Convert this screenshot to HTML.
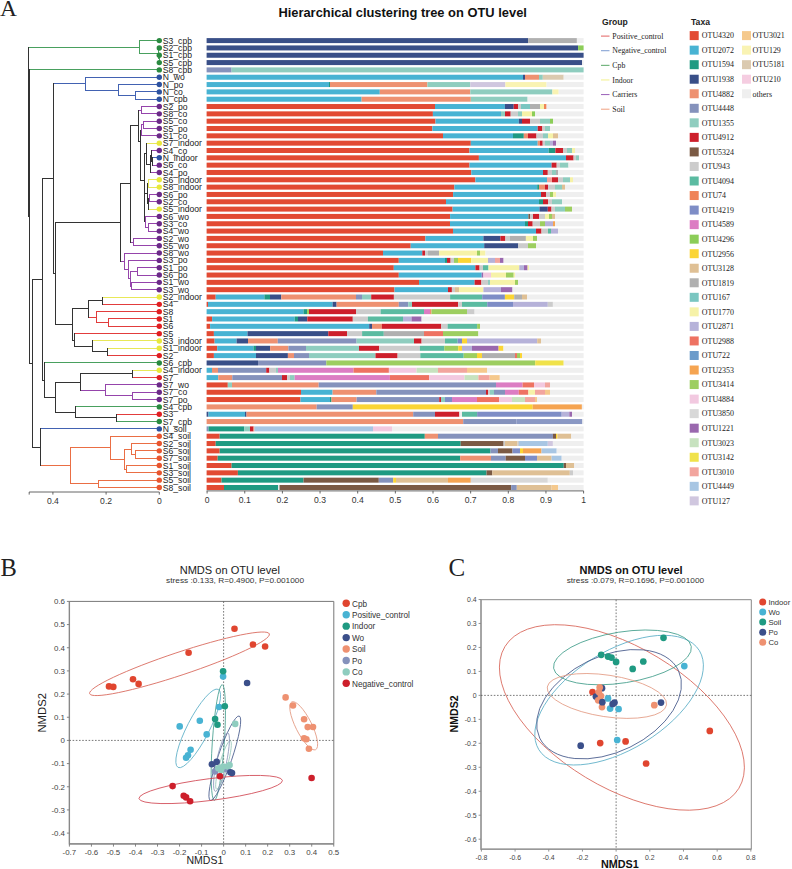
<!DOCTYPE html>
<html><head><meta charset="utf-8"><style>
html,body{margin:0;padding:0;background:#fff;}
svg{display:block;}
</style></head><body>
<svg width="792" height="869" viewBox="0 0 792 869">
<rect width="792" height="869" fill="#fff"/>
<text x="402.65" y="17" font-family="Liberation Sans" font-weight="bold" font-size="12.8" text-anchor="middle" fill="#111" textLength="248.5" lengthAdjust="spacingAndGlyphs">Hierarchical clustering tree on OTU level</text>
<text x="0" y="16.4" font-family="Liberation Serif" font-size="23.4" fill="#222">A</text>
<rect x="206.60" y="38.10" width="321.50" height="5.0" fill="#394f88"/>
<rect x="528.10" y="38.10" width="48.80" height="5.0" fill="#b0b0b0"/>
<rect x="576.90" y="38.10" width="6.70" height="5.0" fill="#efefef"/>
<rect x="206.60" y="45.43" width="371.50" height="5.0" fill="#394f88"/>
<rect x="578.10" y="45.43" width="5.50" height="5.0" fill="#8ccd58"/>
<rect x="206.60" y="52.75" width="377.00" height="5.0" fill="#394f88"/>
<rect x="206.60" y="60.08" width="375.40" height="5.0" fill="#394f88"/>
<rect x="582.00" y="60.08" width="1.60" height="5.0" fill="#efefef"/>
<rect x="206.60" y="67.40" width="25.00" height="5.0" fill="#8592bc"/>
<rect x="231.60" y="67.40" width="352.00" height="5.0" fill="#8fcdbf"/>
<rect x="206.60" y="74.73" width="316.40" height="5.0" fill="#48b3d3"/>
<rect x="523.00" y="74.73" width="2.00" height="5.0" fill="#394f88"/>
<rect x="525.00" y="74.73" width="14.00" height="5.0" fill="#ee9171"/>
<rect x="539.00" y="74.73" width="3.80" height="5.0" fill="#8fcdbf"/>
<rect x="542.80" y="74.73" width="20.90" height="5.0" fill="#dbcab0"/>
<rect x="563.70" y="74.73" width="19.90" height="5.0" fill="#efefef"/>
<rect x="206.60" y="82.06" width="122.40" height="5.0" fill="#48b3d3"/>
<rect x="329.00" y="82.06" width="1.00" height="5.0" fill="#1f9a82"/>
<rect x="330.00" y="82.06" width="97.40" height="5.0" fill="#ee9171"/>
<rect x="427.40" y="82.06" width="42.90" height="5.0" fill="#8fcdbf"/>
<rect x="470.30" y="82.06" width="35.10" height="5.0" fill="#d0c7df"/>
<rect x="505.40" y="82.06" width="41.20" height="5.0" fill="#f9f3b3"/>
<rect x="546.60" y="82.06" width="37.00" height="5.0" fill="#efefef"/>
<rect x="206.60" y="89.38" width="173.20" height="5.0" fill="#48b3d3"/>
<rect x="379.80" y="89.38" width="90.50" height="5.0" fill="#ee9171"/>
<rect x="470.30" y="89.38" width="82.10" height="5.0" fill="#8fcdbf"/>
<rect x="552.40" y="89.38" width="6.30" height="5.0" fill="#f9f3b3"/>
<rect x="558.70" y="89.38" width="24.90" height="5.0" fill="#efefef"/>
<rect x="206.60" y="96.71" width="155.00" height="5.0" fill="#48b3d3"/>
<rect x="361.60" y="96.71" width="109.20" height="5.0" fill="#ee9171"/>
<rect x="470.80" y="96.71" width="56.80" height="5.0" fill="#8fcdbf"/>
<rect x="527.60" y="96.71" width="56.00" height="5.0" fill="#efefef"/>
<rect x="206.60" y="104.03" width="228.40" height="5.0" fill="#e24a33"/>
<rect x="435.00" y="104.03" width="69.90" height="5.0" fill="#48b3d3"/>
<rect x="504.90" y="104.03" width="8.80" height="5.0" fill="#394f88"/>
<rect x="513.70" y="104.03" width="4.30" height="5.0" fill="#cd1f2b"/>
<rect x="518.00" y="104.03" width="3.00" height="5.0" fill="#cccccc"/>
<rect x="521.00" y="104.03" width="9.00" height="5.0" fill="#7ac6c1"/>
<rect x="530.00" y="104.03" width="10.00" height="5.0" fill="#b0b0b0"/>
<rect x="540.00" y="104.03" width="4.00" height="5.0" fill="#f6f2a8"/>
<rect x="544.00" y="104.03" width="2.60" height="5.0" fill="#ef8459"/>
<rect x="546.60" y="104.03" width="37.00" height="5.0" fill="#efefef"/>
<rect x="206.60" y="111.36" width="226.30" height="5.0" fill="#e24a33"/>
<rect x="432.90" y="111.36" width="68.10" height="5.0" fill="#48b3d3"/>
<rect x="501.00" y="111.36" width="4.00" height="5.0" fill="#8fcdbf"/>
<rect x="505.00" y="111.36" width="5.70" height="5.0" fill="#cd1f2b"/>
<rect x="510.70" y="111.36" width="7.30" height="5.0" fill="#cccccc"/>
<rect x="518.00" y="111.36" width="4.00" height="5.0" fill="#8fcdbf"/>
<rect x="522.00" y="111.36" width="10.00" height="5.0" fill="#f6f2a8"/>
<rect x="532.00" y="111.36" width="3.00" height="5.0" fill="#8ccd58"/>
<rect x="535.00" y="111.36" width="48.60" height="5.0" fill="#efefef"/>
<rect x="206.60" y="118.69" width="228.90" height="5.0" fill="#e24a33"/>
<rect x="435.50" y="118.69" width="83.30" height="5.0" fill="#48b3d3"/>
<rect x="518.80" y="118.69" width="3.20" height="5.0" fill="#394f88"/>
<rect x="522.00" y="118.69" width="8.00" height="5.0" fill="#cd1f2b"/>
<rect x="530.00" y="118.69" width="10.00" height="5.0" fill="#cccccc"/>
<rect x="540.00" y="118.69" width="10.00" height="5.0" fill="#8fcdbf"/>
<rect x="550.00" y="118.69" width="3.00" height="5.0" fill="#8ccd58"/>
<rect x="553.00" y="118.69" width="30.60" height="5.0" fill="#efefef"/>
<rect x="206.60" y="126.01" width="225.80" height="5.0" fill="#e24a33"/>
<rect x="432.40" y="126.01" width="105.30" height="5.0" fill="#48b3d3"/>
<rect x="537.70" y="126.01" width="4.70" height="5.0" fill="#cd1f2b"/>
<rect x="542.40" y="126.01" width="2.60" height="5.0" fill="#cccccc"/>
<rect x="545.00" y="126.01" width="5.00" height="5.0" fill="#8fcdbf"/>
<rect x="550.00" y="126.01" width="33.60" height="5.0" fill="#efefef"/>
<rect x="206.60" y="133.34" width="236.40" height="5.0" fill="#e24a33"/>
<rect x="443.00" y="133.34" width="70.00" height="5.0" fill="#48b3d3"/>
<rect x="513.00" y="133.34" width="10.80" height="5.0" fill="#1f9a82"/>
<rect x="523.80" y="133.34" width="4.20" height="5.0" fill="#ee9171"/>
<rect x="528.00" y="133.34" width="8.50" height="5.0" fill="#cd1f2b"/>
<rect x="536.50" y="133.34" width="6.50" height="5.0" fill="#cccccc"/>
<rect x="543.00" y="133.34" width="5.00" height="5.0" fill="#8fcdbf"/>
<rect x="548.00" y="133.34" width="5.00" height="5.0" fill="#f6f2a8"/>
<rect x="553.00" y="133.34" width="5.00" height="5.0" fill="#dfc095"/>
<rect x="558.00" y="133.34" width="25.60" height="5.0" fill="#efefef"/>
<rect x="206.60" y="140.66" width="264.20" height="5.0" fill="#e24a33"/>
<rect x="470.80" y="140.66" width="66.90" height="5.0" fill="#48b3d3"/>
<rect x="537.70" y="140.66" width="2.30" height="5.0" fill="#ee9171"/>
<rect x="540.00" y="140.66" width="2.70" height="5.0" fill="#cd1f2b"/>
<rect x="542.70" y="140.66" width="2.30" height="5.0" fill="#cccccc"/>
<rect x="545.00" y="140.66" width="5.00" height="5.0" fill="#8fcdbf"/>
<rect x="550.00" y="140.66" width="3.00" height="5.0" fill="#b6b2d9"/>
<rect x="553.00" y="140.66" width="3.00" height="5.0" fill="#9a68ae"/>
<rect x="556.00" y="140.66" width="27.60" height="5.0" fill="#efefef"/>
<rect x="206.60" y="147.99" width="262.90" height="5.0" fill="#e24a33"/>
<rect x="469.50" y="147.99" width="79.10" height="5.0" fill="#48b3d3"/>
<rect x="548.60" y="147.99" width="6.80" height="5.0" fill="#1f9a82"/>
<rect x="555.40" y="147.99" width="7.60" height="5.0" fill="#cd1f2b"/>
<rect x="563.00" y="147.99" width="4.00" height="5.0" fill="#cccccc"/>
<rect x="567.00" y="147.99" width="5.00" height="5.0" fill="#8fcdbf"/>
<rect x="572.00" y="147.99" width="3.00" height="5.0" fill="#f6f2a8"/>
<rect x="575.00" y="147.99" width="8.60" height="5.0" fill="#efefef"/>
<rect x="206.60" y="155.32" width="272.30" height="5.0" fill="#e24a33"/>
<rect x="478.90" y="155.32" width="87.10" height="5.0" fill="#48b3d3"/>
<rect x="566.00" y="155.32" width="7.60" height="5.0" fill="#cd1f2b"/>
<rect x="573.60" y="155.32" width="2.40" height="5.0" fill="#cccccc"/>
<rect x="576.00" y="155.32" width="3.00" height="5.0" fill="#8fcdbf"/>
<rect x="579.00" y="155.32" width="4.60" height="5.0" fill="#efefef"/>
<rect x="206.60" y="162.64" width="262.90" height="5.0" fill="#e24a33"/>
<rect x="469.50" y="162.64" width="82.10" height="5.0" fill="#48b3d3"/>
<rect x="551.60" y="162.64" width="5.10" height="5.0" fill="#cd1f2b"/>
<rect x="556.70" y="162.64" width="3.30" height="5.0" fill="#cccccc"/>
<rect x="560.00" y="162.64" width="8.50" height="5.0" fill="#8fcdbf"/>
<rect x="568.50" y="162.64" width="15.10" height="5.0" fill="#efefef"/>
<rect x="206.60" y="169.97" width="264.70" height="5.0" fill="#e24a33"/>
<rect x="471.30" y="169.97" width="71.70" height="5.0" fill="#48b3d3"/>
<rect x="543.00" y="169.97" width="4.80" height="5.0" fill="#cd1f2b"/>
<rect x="547.80" y="169.97" width="4.20" height="5.0" fill="#cccccc"/>
<rect x="552.00" y="169.97" width="4.00" height="5.0" fill="#8fcdbf"/>
<rect x="556.00" y="169.97" width="2.00" height="5.0" fill="#b0b0b0"/>
<rect x="558.00" y="169.97" width="25.60" height="5.0" fill="#efefef"/>
<rect x="206.60" y="177.29" width="268.80" height="5.0" fill="#e24a33"/>
<rect x="475.40" y="177.29" width="71.60" height="5.0" fill="#48b3d3"/>
<rect x="547.00" y="177.29" width="5.00" height="5.0" fill="#f2a59e"/>
<rect x="552.00" y="177.29" width="6.00" height="5.0" fill="#cd1f2b"/>
<rect x="558.00" y="177.29" width="5.00" height="5.0" fill="#cccccc"/>
<rect x="563.00" y="177.29" width="7.00" height="5.0" fill="#8fcdbf"/>
<rect x="570.00" y="177.29" width="3.00" height="5.0" fill="#f6f2a8"/>
<rect x="573.00" y="177.29" width="10.60" height="5.0" fill="#efefef"/>
<rect x="206.60" y="184.62" width="247.80" height="5.0" fill="#e24a33"/>
<rect x="454.40" y="184.62" width="82.80" height="5.0" fill="#48b3d3"/>
<rect x="537.20" y="184.62" width="1.80" height="5.0" fill="#1f9a82"/>
<rect x="539.00" y="184.62" width="6.00" height="5.0" fill="#ee9171"/>
<rect x="545.00" y="184.62" width="3.00" height="5.0" fill="#cd1f2b"/>
<rect x="548.00" y="184.62" width="7.00" height="5.0" fill="#cccccc"/>
<rect x="555.00" y="184.62" width="7.00" height="5.0" fill="#8fcdbf"/>
<rect x="562.00" y="184.62" width="3.00" height="5.0" fill="#dfc095"/>
<rect x="565.00" y="184.62" width="18.60" height="5.0" fill="#efefef"/>
<rect x="206.60" y="191.95" width="246.50" height="5.0" fill="#e24a33"/>
<rect x="453.10" y="191.95" width="87.90" height="5.0" fill="#48b3d3"/>
<rect x="541.00" y="191.95" width="5.00" height="5.0" fill="#cd1f2b"/>
<rect x="546.00" y="191.95" width="4.00" height="5.0" fill="#cccccc"/>
<rect x="550.00" y="191.95" width="3.00" height="5.0" fill="#9dce60"/>
<rect x="553.00" y="191.95" width="3.00" height="5.0" fill="#f6f2a8"/>
<rect x="556.00" y="191.95" width="27.60" height="5.0" fill="#efefef"/>
<rect x="206.60" y="199.27" width="239.40" height="5.0" fill="#e24a33"/>
<rect x="446.00" y="199.27" width="93.00" height="5.0" fill="#48b3d3"/>
<rect x="539.00" y="199.27" width="4.00" height="5.0" fill="#1f9a82"/>
<rect x="543.00" y="199.27" width="5.00" height="5.0" fill="#cd1f2b"/>
<rect x="548.00" y="199.27" width="4.00" height="5.0" fill="#cccccc"/>
<rect x="552.00" y="199.27" width="10.00" height="5.0" fill="#8fcdbf"/>
<rect x="562.00" y="199.27" width="21.60" height="5.0" fill="#efefef"/>
<rect x="206.60" y="206.60" width="246.00" height="5.0" fill="#e24a33"/>
<rect x="452.60" y="206.60" width="86.90" height="5.0" fill="#48b3d3"/>
<rect x="539.50" y="206.60" width="8.30" height="5.0" fill="#394f88"/>
<rect x="547.80" y="206.60" width="3.70" height="5.0" fill="#cd1f2b"/>
<rect x="551.50" y="206.60" width="3.50" height="5.0" fill="#cccccc"/>
<rect x="555.00" y="206.60" width="10.00" height="5.0" fill="#8fcdbf"/>
<rect x="565.00" y="206.60" width="7.00" height="5.0" fill="#9dce60"/>
<rect x="572.00" y="206.60" width="11.60" height="5.0" fill="#efefef"/>
<rect x="206.60" y="213.92" width="243.50" height="5.0" fill="#e24a33"/>
<rect x="450.10" y="213.92" width="78.30" height="5.0" fill="#48b3d3"/>
<rect x="528.40" y="213.92" width="1.60" height="5.0" fill="#7b5a44"/>
<rect x="530.00" y="213.92" width="3.00" height="5.0" fill="#cccccc"/>
<rect x="533.00" y="213.92" width="6.00" height="5.0" fill="#cd1f2b"/>
<rect x="539.00" y="213.92" width="6.00" height="5.0" fill="#cccccc"/>
<rect x="545.00" y="213.92" width="4.00" height="5.0" fill="#f6f2a8"/>
<rect x="549.00" y="213.92" width="3.00" height="5.0" fill="#9dce60"/>
<rect x="552.00" y="213.92" width="3.00" height="5.0" fill="#dfc095"/>
<rect x="555.00" y="213.92" width="28.60" height="5.0" fill="#efefef"/>
<rect x="206.60" y="221.25" width="243.40" height="5.0" fill="#e24a33"/>
<rect x="450.00" y="221.25" width="75.00" height="5.0" fill="#48b3d3"/>
<rect x="525.00" y="221.25" width="3.00" height="5.0" fill="#1f9a82"/>
<rect x="528.00" y="221.25" width="4.70" height="5.0" fill="#cd1f2b"/>
<rect x="532.70" y="221.25" width="7.30" height="5.0" fill="#cccccc"/>
<rect x="540.00" y="221.25" width="5.00" height="5.0" fill="#9dce60"/>
<rect x="545.00" y="221.25" width="8.00" height="5.0" fill="#b6b2d9"/>
<rect x="553.00" y="221.25" width="2.00" height="5.0" fill="#f5a451"/>
<rect x="555.00" y="221.25" width="28.60" height="5.0" fill="#efefef"/>
<rect x="206.60" y="228.58" width="246.40" height="5.0" fill="#e24a33"/>
<rect x="453.00" y="228.58" width="83.00" height="5.0" fill="#48b3d3"/>
<rect x="536.00" y="228.58" width="5.50" height="5.0" fill="#cd1f2b"/>
<rect x="541.50" y="228.58" width="6.50" height="5.0" fill="#cccccc"/>
<rect x="548.00" y="228.58" width="3.00" height="5.0" fill="#5bbba1"/>
<rect x="551.00" y="228.58" width="7.00" height="5.0" fill="#b6b2d9"/>
<rect x="558.00" y="228.58" width="25.60" height="5.0" fill="#efefef"/>
<rect x="206.60" y="235.90" width="218.80" height="5.0" fill="#e24a33"/>
<rect x="425.40" y="235.90" width="58.00" height="5.0" fill="#48b3d3"/>
<rect x="483.40" y="235.90" width="17.00" height="5.0" fill="#394f88"/>
<rect x="500.40" y="235.90" width="5.00" height="5.0" fill="#cd1f2b"/>
<rect x="505.40" y="235.90" width="4.60" height="5.0" fill="#cccccc"/>
<rect x="510.00" y="235.90" width="15.90" height="5.0" fill="#b0b0b0"/>
<rect x="525.90" y="235.90" width="7.10" height="5.0" fill="#f6f2a8"/>
<rect x="533.00" y="235.90" width="4.00" height="5.0" fill="#9dce60"/>
<rect x="537.00" y="235.90" width="46.60" height="5.0" fill="#efefef"/>
<rect x="206.60" y="243.23" width="204.10" height="5.0" fill="#e24a33"/>
<rect x="410.70" y="243.23" width="73.50" height="5.0" fill="#48b3d3"/>
<rect x="484.20" y="243.23" width="34.10" height="5.0" fill="#394f88"/>
<rect x="518.30" y="243.23" width="9.70" height="5.0" fill="#cccccc"/>
<rect x="528.00" y="243.23" width="8.00" height="5.0" fill="#9dce60"/>
<rect x="536.00" y="243.23" width="47.60" height="5.0" fill="#efefef"/>
<rect x="206.60" y="250.55" width="176.40" height="5.0" fill="#e24a33"/>
<rect x="383.00" y="250.55" width="39.30" height="5.0" fill="#48b3d3"/>
<rect x="422.30" y="250.55" width="2.70" height="5.0" fill="#cd1f2b"/>
<rect x="425.00" y="250.55" width="3.00" height="5.0" fill="#cccccc"/>
<rect x="428.00" y="250.55" width="11.00" height="5.0" fill="#b0b0b0"/>
<rect x="439.00" y="250.55" width="38.00" height="5.0" fill="#f6f2a8"/>
<rect x="477.00" y="250.55" width="3.00" height="5.0" fill="#9dce60"/>
<rect x="480.00" y="250.55" width="5.50" height="5.0" fill="#f6f2a8"/>
<rect x="485.50" y="250.55" width="98.10" height="5.0" fill="#efefef"/>
<rect x="206.60" y="257.88" width="192.20" height="5.0" fill="#e24a33"/>
<rect x="398.80" y="257.88" width="46.20" height="5.0" fill="#48b3d3"/>
<rect x="445.00" y="257.88" width="2.00" height="5.0" fill="#1f9a82"/>
<rect x="447.00" y="257.88" width="3.60" height="5.0" fill="#cd1f2b"/>
<rect x="450.60" y="257.88" width="3.40" height="5.0" fill="#cccccc"/>
<rect x="454.00" y="257.88" width="4.00" height="5.0" fill="#9dce60"/>
<rect x="458.00" y="257.88" width="13.30" height="5.0" fill="#fbd535"/>
<rect x="471.30" y="257.88" width="16.70" height="5.0" fill="#f6f2a8"/>
<rect x="488.00" y="257.88" width="7.00" height="5.0" fill="#b6b2d9"/>
<rect x="495.00" y="257.88" width="5.00" height="5.0" fill="#f2a59e"/>
<rect x="500.00" y="257.88" width="3.60" height="5.0" fill="#9a68ae"/>
<rect x="503.60" y="257.88" width="80.00" height="5.0" fill="#efefef"/>
<rect x="206.60" y="265.21" width="187.20" height="5.0" fill="#e24a33"/>
<rect x="393.80" y="265.21" width="81.60" height="5.0" fill="#48b3d3"/>
<rect x="475.40" y="265.21" width="4.20" height="5.0" fill="#cd1f2b"/>
<rect x="479.60" y="265.21" width="3.40" height="5.0" fill="#cccccc"/>
<rect x="483.00" y="265.21" width="5.50" height="5.0" fill="#5bbba1"/>
<rect x="488.50" y="265.21" width="30.80" height="5.0" fill="#f6f2a8"/>
<rect x="519.30" y="265.21" width="4.70" height="5.0" fill="#b6b2d9"/>
<rect x="524.00" y="265.21" width="3.60" height="5.0" fill="#9a68ae"/>
<rect x="527.60" y="265.21" width="1.40" height="5.0" fill="#f6f2a8"/>
<rect x="529.00" y="265.21" width="54.60" height="5.0" fill="#efefef"/>
<rect x="206.60" y="272.53" width="192.20" height="5.0" fill="#e24a33"/>
<rect x="398.80" y="272.53" width="82.90" height="5.0" fill="#48b3d3"/>
<rect x="481.70" y="272.53" width="1.70" height="5.0" fill="#9a68ae"/>
<rect x="483.40" y="272.53" width="7.60" height="5.0" fill="#f2c9e0"/>
<rect x="491.00" y="272.53" width="15.00" height="5.0" fill="#f6f2a8"/>
<rect x="506.00" y="272.53" width="7.70" height="5.0" fill="#9dce60"/>
<rect x="513.70" y="272.53" width="1.30" height="5.0" fill="#f6f2a8"/>
<rect x="515.00" y="272.53" width="68.60" height="5.0" fill="#efefef"/>
<rect x="206.60" y="279.86" width="212.40" height="5.0" fill="#e24a33"/>
<rect x="419.00" y="279.86" width="55.60" height="5.0" fill="#48b3d3"/>
<rect x="474.60" y="279.86" width="6.80" height="5.0" fill="#cd1f2b"/>
<rect x="481.40" y="279.86" width="6.60" height="5.0" fill="#cccccc"/>
<rect x="488.00" y="279.86" width="2.00" height="5.0" fill="#8fcdbf"/>
<rect x="490.00" y="279.86" width="25.00" height="5.0" fill="#f6f2a8"/>
<rect x="515.00" y="279.86" width="3.00" height="5.0" fill="#9dce60"/>
<rect x="518.00" y="279.86" width="65.60" height="5.0" fill="#efefef"/>
<rect x="206.60" y="287.18" width="187.90" height="5.0" fill="#e24a33"/>
<rect x="394.50" y="287.18" width="53.50" height="5.0" fill="#48b3d3"/>
<rect x="448.00" y="287.18" width="3.90" height="5.0" fill="#cd1f2b"/>
<rect x="451.90" y="287.18" width="3.10" height="5.0" fill="#cccccc"/>
<rect x="455.00" y="287.18" width="4.00" height="5.0" fill="#dfc095"/>
<rect x="459.00" y="287.18" width="24.40" height="5.0" fill="#f6f2a8"/>
<rect x="483.40" y="287.18" width="17.60" height="5.0" fill="#b6b2d9"/>
<rect x="501.00" y="287.18" width="11.50" height="5.0" fill="#9a68ae"/>
<rect x="512.50" y="287.18" width="71.10" height="5.0" fill="#efefef"/>
<rect x="206.60" y="294.51" width="9.10" height="5.0" fill="#e24a33"/>
<rect x="215.70" y="294.51" width="48.70" height="5.0" fill="#48b3d3"/>
<rect x="264.40" y="294.51" width="5.60" height="5.0" fill="#1f9a82"/>
<rect x="270.00" y="294.51" width="11.30" height="5.0" fill="#394f88"/>
<rect x="281.30" y="294.51" width="74.70" height="5.0" fill="#ee9171"/>
<rect x="356.00" y="294.51" width="6.00" height="5.0" fill="#8592bc"/>
<rect x="362.00" y="294.51" width="9.20" height="5.0" fill="#8fcdbf"/>
<rect x="371.20" y="294.51" width="22.70" height="5.0" fill="#cd1f2b"/>
<rect x="393.90" y="294.51" width="56.20" height="5.0" fill="#cccccc"/>
<rect x="450.10" y="294.51" width="32.10" height="5.0" fill="#5bbba1"/>
<rect x="482.20" y="294.51" width="22.70" height="5.0" fill="#7e8dc6"/>
<rect x="504.90" y="294.51" width="9.30" height="5.0" fill="#fbd535"/>
<rect x="514.20" y="294.51" width="7.80" height="5.0" fill="#b0b0b0"/>
<rect x="522.00" y="294.51" width="5.00" height="5.0" fill="#dfc095"/>
<rect x="527.00" y="294.51" width="56.60" height="5.0" fill="#efefef"/>
<rect x="206.60" y="301.84" width="1.40" height="5.0" fill="#e24a33"/>
<rect x="208.00" y="301.84" width="124.60" height="5.0" fill="#48b3d3"/>
<rect x="332.60" y="301.84" width="4.00" height="5.0" fill="#394f88"/>
<rect x="336.60" y="301.84" width="62.20" height="5.0" fill="#ee9171"/>
<rect x="398.80" y="301.84" width="9.40" height="5.0" fill="#8592bc"/>
<rect x="408.20" y="301.84" width="3.80" height="5.0" fill="#8fcdbf"/>
<rect x="412.00" y="301.84" width="46.20" height="5.0" fill="#cd1f2b"/>
<rect x="458.20" y="301.84" width="3.80" height="5.0" fill="#cccccc"/>
<rect x="462.00" y="301.84" width="25.20" height="5.0" fill="#5bbba1"/>
<rect x="487.20" y="301.84" width="25.80" height="5.0" fill="#7e8dc6"/>
<rect x="513.00" y="301.84" width="34.80" height="5.0" fill="#b6b2d9"/>
<rect x="547.80" y="301.84" width="5.10" height="5.0" fill="#cccccc"/>
<rect x="552.90" y="301.84" width="30.70" height="5.0" fill="#efefef"/>
<rect x="206.60" y="309.16" width="96.90" height="5.0" fill="#48b3d3"/>
<rect x="303.50" y="309.16" width="3.50" height="5.0" fill="#1f9a82"/>
<rect x="307.00" y="309.16" width="2.00" height="5.0" fill="#9dce60"/>
<rect x="309.00" y="309.16" width="47.00" height="5.0" fill="#cd1f2b"/>
<rect x="356.00" y="309.16" width="24.60" height="5.0" fill="#cccccc"/>
<rect x="380.60" y="309.16" width="43.40" height="5.0" fill="#5bbba1"/>
<rect x="424.00" y="309.16" width="6.00" height="5.0" fill="#dc7dc3"/>
<rect x="430.00" y="309.16" width="1.50" height="5.0" fill="#ee9171"/>
<rect x="431.50" y="309.16" width="35.50" height="5.0" fill="#9dce60"/>
<rect x="467.00" y="309.16" width="7.60" height="5.0" fill="#cccccc"/>
<rect x="474.60" y="309.16" width="109.00" height="5.0" fill="#efefef"/>
<rect x="206.60" y="316.49" width="5.50" height="5.0" fill="#e24a33"/>
<rect x="212.10" y="316.49" width="82.60" height="5.0" fill="#48b3d3"/>
<rect x="294.70" y="316.49" width="3.30" height="5.0" fill="#1f9a82"/>
<rect x="298.00" y="316.49" width="9.30" height="5.0" fill="#394f88"/>
<rect x="307.30" y="316.49" width="45.50" height="5.0" fill="#cd1f2b"/>
<rect x="352.80" y="316.49" width="15.10" height="5.0" fill="#cccccc"/>
<rect x="367.90" y="316.49" width="35.10" height="5.0" fill="#5bbba1"/>
<rect x="403.00" y="316.49" width="8.50" height="5.0" fill="#b6b2d9"/>
<rect x="411.50" y="316.49" width="10.10" height="5.0" fill="#9a68ae"/>
<rect x="421.60" y="316.49" width="162.00" height="5.0" fill="#efefef"/>
<rect x="206.60" y="323.81" width="3.50" height="5.0" fill="#e24a33"/>
<rect x="210.10" y="323.81" width="159.10" height="5.0" fill="#48b3d3"/>
<rect x="369.20" y="323.81" width="2.80" height="5.0" fill="#394f88"/>
<rect x="372.00" y="323.81" width="9.80" height="5.0" fill="#ee9171"/>
<rect x="381.80" y="323.81" width="59.50" height="5.0" fill="#cd1f2b"/>
<rect x="441.30" y="323.81" width="6.30" height="5.0" fill="#cccccc"/>
<rect x="447.60" y="323.81" width="29.50" height="5.0" fill="#5bbba1"/>
<rect x="477.10" y="323.81" width="2.90" height="5.0" fill="#9dce60"/>
<rect x="480.00" y="323.81" width="103.60" height="5.0" fill="#efefef"/>
<rect x="206.60" y="331.14" width="7.30" height="5.0" fill="#e24a33"/>
<rect x="213.90" y="331.14" width="33.60" height="5.0" fill="#48b3d3"/>
<rect x="247.50" y="331.14" width="80.80" height="5.0" fill="#394f88"/>
<rect x="328.30" y="331.14" width="18.70" height="5.0" fill="#cd1f2b"/>
<rect x="347.00" y="331.14" width="15.10" height="5.0" fill="#cccccc"/>
<rect x="362.10" y="331.14" width="21.70" height="5.0" fill="#5bbba1"/>
<rect x="383.80" y="331.14" width="40.20" height="5.0" fill="#b0b0b0"/>
<rect x="424.00" y="331.14" width="19.00" height="5.0" fill="#ee7262"/>
<rect x="443.00" y="331.14" width="35.40" height="5.0" fill="#9dce60"/>
<rect x="478.40" y="331.14" width="105.20" height="5.0" fill="#efefef"/>
<rect x="206.60" y="338.47" width="8.00" height="5.0" fill="#e24a33"/>
<rect x="214.60" y="338.47" width="22.00" height="5.0" fill="#48b3d3"/>
<rect x="236.60" y="338.47" width="11.40" height="5.0" fill="#394f88"/>
<rect x="248.00" y="338.47" width="29.80" height="5.0" fill="#ee9171"/>
<rect x="277.80" y="338.47" width="78.80" height="5.0" fill="#8592bc"/>
<rect x="356.60" y="338.47" width="57.40" height="5.0" fill="#8fcdbf"/>
<rect x="414.00" y="338.47" width="7.60" height="5.0" fill="#cd1f2b"/>
<rect x="421.60" y="338.47" width="23.40" height="5.0" fill="#cccccc"/>
<rect x="445.00" y="338.47" width="12.70" height="5.0" fill="#5bbba1"/>
<rect x="457.70" y="338.47" width="4.30" height="5.0" fill="#7e8dc6"/>
<rect x="462.00" y="338.47" width="5.00" height="5.0" fill="#fbd535"/>
<rect x="467.00" y="338.47" width="70.20" height="5.0" fill="#b6b2d9"/>
<rect x="537.20" y="338.47" width="3.80" height="5.0" fill="#dfc095"/>
<rect x="541.00" y="338.47" width="42.60" height="5.0" fill="#efefef"/>
<rect x="206.60" y="345.79" width="10.60" height="5.0" fill="#e24a33"/>
<rect x="217.20" y="345.79" width="36.30" height="5.0" fill="#48b3d3"/>
<rect x="253.50" y="345.79" width="2.50" height="5.0" fill="#1f9a82"/>
<rect x="256.00" y="345.79" width="14.20" height="5.0" fill="#394f88"/>
<rect x="270.20" y="345.79" width="18.20" height="5.0" fill="#ee9171"/>
<rect x="288.40" y="345.79" width="17.60" height="5.0" fill="#8592bc"/>
<rect x="306.00" y="345.79" width="53.00" height="5.0" fill="#8fcdbf"/>
<rect x="359.00" y="345.79" width="20.30" height="5.0" fill="#cd1f2b"/>
<rect x="379.30" y="345.79" width="40.50" height="5.0" fill="#cccccc"/>
<rect x="419.80" y="345.79" width="24.50" height="5.0" fill="#5bbba1"/>
<rect x="444.30" y="345.79" width="13.90" height="5.0" fill="#9dce60"/>
<rect x="458.20" y="345.79" width="3.80" height="5.0" fill="#fbd535"/>
<rect x="462.00" y="345.79" width="10.00" height="5.0" fill="#b6b2d9"/>
<rect x="472.00" y="345.79" width="26.60" height="5.0" fill="#9a68ae"/>
<rect x="498.60" y="345.79" width="4.90" height="5.0" fill="#fbd535"/>
<rect x="503.50" y="345.79" width="80.10" height="5.0" fill="#efefef"/>
<rect x="206.60" y="353.12" width="7.30" height="5.0" fill="#e24a33"/>
<rect x="213.90" y="353.12" width="42.10" height="5.0" fill="#48b3d3"/>
<rect x="256.00" y="353.12" width="31.90" height="5.0" fill="#394f88"/>
<rect x="287.90" y="353.12" width="6.10" height="5.0" fill="#ee9171"/>
<rect x="294.00" y="353.12" width="15.00" height="5.0" fill="#8592bc"/>
<rect x="309.00" y="353.12" width="66.50" height="5.0" fill="#8fcdbf"/>
<rect x="375.50" y="353.12" width="22.10" height="5.0" fill="#cd1f2b"/>
<rect x="397.60" y="353.12" width="22.70" height="5.0" fill="#cccccc"/>
<rect x="420.30" y="353.12" width="43.40" height="5.0" fill="#5bbba1"/>
<rect x="463.70" y="353.12" width="13.30" height="5.0" fill="#9dce60"/>
<rect x="477.00" y="353.12" width="5.00" height="5.0" fill="#fbd535"/>
<rect x="482.00" y="353.12" width="33.00" height="5.0" fill="#b0b0b0"/>
<rect x="515.00" y="353.12" width="2.00" height="5.0" fill="#ee7262"/>
<rect x="517.00" y="353.12" width="3.00" height="5.0" fill="#9dce60"/>
<rect x="520.00" y="353.12" width="2.00" height="5.0" fill="#fbd535"/>
<rect x="522.00" y="353.12" width="61.60" height="5.0" fill="#efefef"/>
<rect x="206.60" y="360.44" width="51.40" height="5.0" fill="#394f88"/>
<rect x="258.00" y="360.44" width="68.30" height="5.0" fill="#8592bc"/>
<rect x="326.30" y="360.44" width="208.90" height="5.0" fill="#9dce60"/>
<rect x="535.20" y="360.44" width="28.50" height="5.0" fill="#f0e24a"/>
<rect x="563.70" y="360.44" width="19.90" height="5.0" fill="#efefef"/>
<rect x="206.60" y="367.77" width="5.40" height="5.0" fill="#48b3d3"/>
<rect x="212.00" y="367.77" width="6.00" height="5.0" fill="#ee9171"/>
<rect x="218.00" y="367.77" width="48.20" height="5.0" fill="#8592bc"/>
<rect x="266.20" y="367.77" width="3.20" height="5.0" fill="#cd1f2b"/>
<rect x="269.40" y="367.77" width="6.60" height="5.0" fill="#cccccc"/>
<rect x="276.00" y="367.77" width="2.00" height="5.0" fill="#8fcdbf"/>
<rect x="278.00" y="367.77" width="75.50" height="5.0" fill="#dc7dc3"/>
<rect x="353.50" y="367.77" width="35.40" height="5.0" fill="#ee7262"/>
<rect x="388.90" y="367.77" width="27.60" height="5.0" fill="#f2c9e0"/>
<rect x="416.50" y="367.77" width="21.50" height="5.0" fill="#c7e2bf"/>
<rect x="438.00" y="367.77" width="29.00" height="5.0" fill="#f2a59e"/>
<rect x="467.00" y="367.77" width="20.00" height="5.0" fill="#f5c98d"/>
<rect x="487.00" y="367.77" width="96.60" height="5.0" fill="#efefef"/>
<rect x="206.60" y="375.10" width="11.60" height="5.0" fill="#48b3d3"/>
<rect x="218.20" y="375.10" width="14.10" height="5.0" fill="#ee9171"/>
<rect x="232.30" y="375.10" width="49.70" height="5.0" fill="#8592bc"/>
<rect x="282.00" y="375.10" width="5.10" height="5.0" fill="#cd1f2b"/>
<rect x="287.10" y="375.10" width="2.90" height="5.0" fill="#cccccc"/>
<rect x="290.00" y="375.10" width="4.70" height="5.0" fill="#8fcdbf"/>
<rect x="294.70" y="375.10" width="95.20" height="5.0" fill="#dc7dc3"/>
<rect x="389.90" y="375.10" width="39.20" height="5.0" fill="#ee7262"/>
<rect x="429.10" y="375.10" width="35.40" height="5.0" fill="#f2c9e0"/>
<rect x="464.50" y="375.10" width="13.90" height="5.0" fill="#c7e2bf"/>
<rect x="478.40" y="375.10" width="11.30" height="5.0" fill="#f2a59e"/>
<rect x="489.70" y="375.10" width="10.10" height="5.0" fill="#f5c98d"/>
<rect x="499.80" y="375.10" width="83.80" height="5.0" fill="#efefef"/>
<rect x="206.60" y="382.42" width="21.20" height="5.0" fill="#e24a33"/>
<rect x="227.80" y="382.42" width="4.20" height="5.0" fill="#8fcdbf"/>
<rect x="232.00" y="382.42" width="86.70" height="5.0" fill="#ee9171"/>
<rect x="318.70" y="382.42" width="177.30" height="5.0" fill="#8592bc"/>
<rect x="496.00" y="382.42" width="26.60" height="5.0" fill="#dc7dc3"/>
<rect x="522.60" y="382.42" width="11.40" height="5.0" fill="#ee7262"/>
<rect x="534.00" y="382.42" width="11.00" height="5.0" fill="#f2c9e0"/>
<rect x="545.00" y="382.42" width="5.00" height="5.0" fill="#f2a59e"/>
<rect x="550.00" y="382.42" width="33.60" height="5.0" fill="#efefef"/>
<rect x="206.60" y="389.75" width="94.40" height="5.0" fill="#e24a33"/>
<rect x="301.00" y="389.75" width="31.60" height="5.0" fill="#48b3d3"/>
<rect x="332.60" y="389.75" width="43.70" height="5.0" fill="#ee9171"/>
<rect x="376.30" y="389.75" width="109.70" height="5.0" fill="#8592bc"/>
<rect x="486.00" y="389.75" width="2.00" height="5.0" fill="#cd1f2b"/>
<rect x="488.00" y="389.75" width="2.00" height="5.0" fill="#cccccc"/>
<rect x="490.00" y="389.75" width="4.00" height="5.0" fill="#8fcdbf"/>
<rect x="494.00" y="389.75" width="11.00" height="5.0" fill="#8592bc"/>
<rect x="505.00" y="389.75" width="13.80" height="5.0" fill="#dc7dc3"/>
<rect x="518.80" y="389.75" width="9.60" height="5.0" fill="#ee7262"/>
<rect x="528.40" y="389.75" width="6.60" height="5.0" fill="#f6f2a8"/>
<rect x="535.00" y="389.75" width="10.00" height="5.0" fill="#f2a59e"/>
<rect x="545.00" y="389.75" width="5.00" height="5.0" fill="#f5c98d"/>
<rect x="550.00" y="389.75" width="33.60" height="5.0" fill="#efefef"/>
<rect x="206.60" y="397.07" width="93.90" height="5.0" fill="#e24a33"/>
<rect x="300.50" y="397.07" width="29.50" height="5.0" fill="#48b3d3"/>
<rect x="330.00" y="397.07" width="1.50" height="5.0" fill="#1f9a82"/>
<rect x="331.50" y="397.07" width="25.10" height="5.0" fill="#ee9171"/>
<rect x="356.60" y="397.07" width="82.60" height="5.0" fill="#8592bc"/>
<rect x="439.20" y="397.07" width="1.80" height="5.0" fill="#cd1f2b"/>
<rect x="441.00" y="397.07" width="4.00" height="5.0" fill="#8fcdbf"/>
<rect x="445.00" y="397.07" width="7.00" height="5.0" fill="#7e8dc6"/>
<rect x="452.00" y="397.07" width="25.00" height="5.0" fill="#dc7dc3"/>
<rect x="477.00" y="397.07" width="22.00" height="5.0" fill="#ee7262"/>
<rect x="499.00" y="397.07" width="13.00" height="5.0" fill="#f2c9e0"/>
<rect x="512.00" y="397.07" width="13.00" height="5.0" fill="#c7e2bf"/>
<rect x="525.00" y="397.07" width="10.00" height="5.0" fill="#f2a59e"/>
<rect x="535.00" y="397.07" width="2.00" height="5.0" fill="#f5c98d"/>
<rect x="537.00" y="397.07" width="46.60" height="5.0" fill="#efefef"/>
<rect x="206.60" y="404.40" width="110.10" height="5.0" fill="#ee9171"/>
<rect x="316.70" y="404.40" width="36.10" height="5.0" fill="#8592bc"/>
<rect x="352.80" y="404.40" width="179.90" height="5.0" fill="#fbd535"/>
<rect x="532.70" y="404.40" width="49.20" height="5.0" fill="#f5a451"/>
<rect x="581.90" y="404.40" width="1.70" height="5.0" fill="#efefef"/>
<rect x="206.60" y="411.73" width="1.90" height="5.0" fill="#394f88"/>
<rect x="208.50" y="411.73" width="36.50" height="5.0" fill="#48b3d3"/>
<rect x="245.00" y="411.73" width="1.50" height="5.0" fill="#394f88"/>
<rect x="246.50" y="411.73" width="166.70" height="5.0" fill="#ee9171"/>
<rect x="413.20" y="411.73" width="21.80" height="5.0" fill="#8592bc"/>
<rect x="435.00" y="411.73" width="24.40" height="5.0" fill="#cd1f2b"/>
<rect x="459.40" y="411.73" width="2.60" height="5.0" fill="#efefef"/>
<rect x="462.00" y="411.73" width="15.10" height="5.0" fill="#5bbba1"/>
<rect x="477.10" y="411.73" width="84.60" height="5.0" fill="#7e8dc6"/>
<rect x="561.70" y="411.73" width="7.60" height="5.0" fill="#b6b2d9"/>
<rect x="569.30" y="411.73" width="2.70" height="5.0" fill="#9a68ae"/>
<rect x="572.00" y="411.73" width="11.60" height="5.0" fill="#efefef"/>
<rect x="206.60" y="419.05" width="256.60" height="5.0" fill="#ee9171"/>
<rect x="463.20" y="419.05" width="53.10" height="5.0" fill="#8592bc"/>
<rect x="516.30" y="419.05" width="66.10" height="5.0" fill="#8a98c4"/>
<rect x="582.40" y="419.05" width="1.20" height="5.0" fill="#efefef"/>
<rect x="206.60" y="426.38" width="1.90" height="5.0" fill="#8592bc"/>
<rect x="208.50" y="426.38" width="35.70" height="5.0" fill="#1f9a82"/>
<rect x="244.20" y="426.38" width="5.80" height="5.0" fill="#8fcdbf"/>
<rect x="250.00" y="426.38" width="3.50" height="5.0" fill="#cd1f2b"/>
<rect x="253.50" y="426.38" width="1.00" height="5.0" fill="#ee9171"/>
<rect x="254.50" y="426.38" width="118.50" height="5.0" fill="#a8c6e3"/>
<rect x="373.00" y="426.38" width="19.00" height="5.0" fill="#f2c9e0"/>
<rect x="392.00" y="426.38" width="191.60" height="5.0" fill="#efefef"/>
<rect x="206.60" y="433.70" width="13.10" height="5.0" fill="#e24a33"/>
<rect x="219.70" y="433.70" width="205.10" height="5.0" fill="#1f9a82"/>
<rect x="424.80" y="433.70" width="13.20" height="5.0" fill="#ee9171"/>
<rect x="438.00" y="433.70" width="114.90" height="5.0" fill="#8592bc"/>
<rect x="552.90" y="433.70" width="3.10" height="5.0" fill="#7b5a44"/>
<rect x="556.00" y="433.70" width="1.50" height="5.0" fill="#fbd535"/>
<rect x="557.50" y="433.70" width="13.80" height="5.0" fill="#dfc095"/>
<rect x="571.30" y="433.70" width="12.30" height="5.0" fill="#efefef"/>
<rect x="206.60" y="441.03" width="9.10" height="5.0" fill="#e24a33"/>
<rect x="215.70" y="441.03" width="245.00" height="5.0" fill="#1f9a82"/>
<rect x="460.70" y="441.03" width="42.90" height="5.0" fill="#7b5a44"/>
<rect x="503.60" y="441.03" width="1.40" height="5.0" fill="#cccccc"/>
<rect x="505.00" y="441.03" width="12.50" height="5.0" fill="#dfc095"/>
<rect x="517.50" y="441.03" width="1.50" height="5.0" fill="#cccccc"/>
<rect x="519.00" y="441.03" width="28.80" height="5.0" fill="#a8c6e3"/>
<rect x="547.80" y="441.03" width="5.10" height="5.0" fill="#d0c7df"/>
<rect x="552.90" y="441.03" width="30.70" height="5.0" fill="#efefef"/>
<rect x="206.60" y="448.36" width="13.10" height="5.0" fill="#e24a33"/>
<rect x="219.70" y="448.36" width="270.80" height="5.0" fill="#1f9a82"/>
<rect x="490.50" y="448.36" width="7.50" height="5.0" fill="#8592bc"/>
<rect x="498.00" y="448.36" width="14.50" height="5.0" fill="#7b5a44"/>
<rect x="512.50" y="448.36" width="7.50" height="5.0" fill="#7e8dc6"/>
<rect x="520.00" y="448.36" width="3.00" height="5.0" fill="#fbd535"/>
<rect x="523.00" y="448.36" width="18.50" height="5.0" fill="#f5a451"/>
<rect x="541.50" y="448.36" width="15.20" height="5.0" fill="#a8c6e3"/>
<rect x="556.70" y="448.36" width="26.90" height="5.0" fill="#efefef"/>
<rect x="206.60" y="455.68" width="11.10" height="5.0" fill="#e24a33"/>
<rect x="217.70" y="455.68" width="242.50" height="5.0" fill="#1f9a82"/>
<rect x="460.20" y="455.68" width="30.80" height="5.0" fill="#ee9171"/>
<rect x="491.00" y="455.68" width="14.70" height="5.0" fill="#8592bc"/>
<rect x="505.70" y="455.68" width="19.30" height="5.0" fill="#7b5a44"/>
<rect x="525.00" y="455.68" width="12.00" height="5.0" fill="#7e8dc6"/>
<rect x="537.00" y="455.68" width="14.60" height="5.0" fill="#dfc095"/>
<rect x="551.60" y="455.68" width="10.10" height="5.0" fill="#a8c6e3"/>
<rect x="561.70" y="455.68" width="21.90" height="5.0" fill="#efefef"/>
<rect x="206.60" y="463.01" width="25.00" height="5.0" fill="#e24a33"/>
<rect x="231.60" y="463.01" width="332.10" height="5.0" fill="#1f9a82"/>
<rect x="563.70" y="463.01" width="2.30" height="5.0" fill="#7b5a44"/>
<rect x="566.00" y="463.01" width="8.30" height="5.0" fill="#dfc095"/>
<rect x="574.30" y="463.01" width="9.30" height="5.0" fill="#efefef"/>
<rect x="206.60" y="470.33" width="31.30" height="5.0" fill="#e24a33"/>
<rect x="237.90" y="470.33" width="248.60" height="5.0" fill="#1f9a82"/>
<rect x="486.50" y="470.33" width="5.80" height="5.0" fill="#7b5a44"/>
<rect x="492.30" y="470.33" width="77.50" height="5.0" fill="#dfc095"/>
<rect x="569.80" y="470.33" width="3.20" height="5.0" fill="#cccccc"/>
<rect x="573.00" y="470.33" width="10.60" height="5.0" fill="#efefef"/>
<rect x="206.60" y="477.66" width="14.90" height="5.0" fill="#e24a33"/>
<rect x="221.50" y="477.66" width="82.00" height="5.0" fill="#1f9a82"/>
<rect x="303.50" y="477.66" width="75.30" height="5.0" fill="#7b5a44"/>
<rect x="378.80" y="477.66" width="14.40" height="5.0" fill="#8592bc"/>
<rect x="393.20" y="477.66" width="2.80" height="5.0" fill="#fbd535"/>
<rect x="396.00" y="477.66" width="52.00" height="5.0" fill="#dfc095"/>
<rect x="448.00" y="477.66" width="22.80" height="5.0" fill="#f5a451"/>
<rect x="470.80" y="477.66" width="77.00" height="5.0" fill="#d8d8d8"/>
<rect x="547.80" y="477.66" width="35.80" height="5.0" fill="#efefef"/>
<rect x="206.60" y="484.99" width="17.40" height="5.0" fill="#e24a33"/>
<rect x="224.00" y="484.99" width="54.30" height="5.0" fill="#1f9a82"/>
<rect x="278.30" y="484.99" width="1.20" height="5.0" fill="#efefef"/>
<rect x="279.50" y="484.99" width="231.70" height="5.0" fill="#7b5a44"/>
<rect x="511.20" y="484.99" width="5.60" height="5.0" fill="#8592bc"/>
<rect x="516.80" y="484.99" width="34.80" height="5.0" fill="#dfc095"/>
<rect x="551.60" y="484.99" width="6.40" height="5.0" fill="#f5c98d"/>
<rect x="558.00" y="484.99" width="25.60" height="5.0" fill="#efefef"/>
<line x1="206.6" y1="490.9" x2="583.6" y2="490.9" stroke="#555" stroke-width="0.9"/>
<line x1="207.10" y1="490.9" x2="207.10" y2="493.5" stroke="#555" stroke-width="0.9"/>
<text x="207.10" y="503.4" font-family="Liberation Sans" font-size="8.6" text-anchor="middle" fill="#333">0</text>
<line x1="244.75" y1="490.9" x2="244.75" y2="493.5" stroke="#555" stroke-width="0.9"/>
<text x="244.75" y="503.4" font-family="Liberation Sans" font-size="8.6" text-anchor="middle" fill="#333">0.1</text>
<line x1="282.40" y1="490.9" x2="282.40" y2="493.5" stroke="#555" stroke-width="0.9"/>
<text x="282.40" y="503.4" font-family="Liberation Sans" font-size="8.6" text-anchor="middle" fill="#333">0.2</text>
<line x1="320.05" y1="490.9" x2="320.05" y2="493.5" stroke="#555" stroke-width="0.9"/>
<text x="320.05" y="503.4" font-family="Liberation Sans" font-size="8.6" text-anchor="middle" fill="#333">0.3</text>
<line x1="357.70" y1="490.9" x2="357.70" y2="493.5" stroke="#555" stroke-width="0.9"/>
<text x="357.70" y="503.4" font-family="Liberation Sans" font-size="8.6" text-anchor="middle" fill="#333">0.4</text>
<line x1="395.35" y1="490.9" x2="395.35" y2="493.5" stroke="#555" stroke-width="0.9"/>
<text x="395.35" y="503.4" font-family="Liberation Sans" font-size="8.6" text-anchor="middle" fill="#333">0.5</text>
<line x1="433.00" y1="490.9" x2="433.00" y2="493.5" stroke="#555" stroke-width="0.9"/>
<text x="433.00" y="503.4" font-family="Liberation Sans" font-size="8.6" text-anchor="middle" fill="#333">0.6</text>
<line x1="470.65" y1="490.9" x2="470.65" y2="493.5" stroke="#555" stroke-width="0.9"/>
<text x="470.65" y="503.4" font-family="Liberation Sans" font-size="8.6" text-anchor="middle" fill="#333">0.7</text>
<line x1="508.30" y1="490.9" x2="508.30" y2="493.5" stroke="#555" stroke-width="0.9"/>
<text x="508.30" y="503.4" font-family="Liberation Sans" font-size="8.6" text-anchor="middle" fill="#333">0.8</text>
<line x1="545.95" y1="490.9" x2="545.95" y2="493.5" stroke="#555" stroke-width="0.9"/>
<text x="545.95" y="503.4" font-family="Liberation Sans" font-size="8.6" text-anchor="middle" fill="#333">0.9</text>
<line x1="583.60" y1="490.9" x2="583.60" y2="493.5" stroke="#555" stroke-width="0.9"/>
<text x="583.60" y="503.4" font-family="Liberation Sans" font-size="8.6" text-anchor="middle" fill="#333">1</text>
<g fill="none" stroke-width="1"><path d="M159.50 55.50H159.30" stroke="#49a05e"/><path d="M159.50 62.50H159.30" stroke="#49a05e"/><path d="M159.50 55.00V63.00" stroke="#49a05e"/><path d="M158.50 47.50H159.30" stroke="#49a05e"/><path d="M158.50 58.50H159.00" stroke="#49a05e"/><path d="M158.50 47.00V59.00" stroke="#49a05e"/><path d="M139.50 40.50H159.30" stroke="#49a05e"/><path d="M139.50 53.50H158.30" stroke="#49a05e"/><path d="M139.50 40.00V54.00" stroke="#49a05e"/><path d="M135.50 91.50H159.30" stroke="#4262b2"/><path d="M135.50 99.50H159.30" stroke="#4262b2"/><path d="M135.50 91.00V100.00" stroke="#4262b2"/><path d="M118.50 84.50H159.30" stroke="#4262b2"/><path d="M118.50 95.50H135.00" stroke="#4262b2"/><path d="M118.50 84.00V96.00" stroke="#4262b2"/><path d="M85.50 77.50H159.30" stroke="#4262b2"/><path d="M85.50 90.50H118.90" stroke="#4262b2"/><path d="M85.50 77.00V91.00" stroke="#4262b2"/><path d="M141.50 106.50H159.30" stroke="#9544ab"/><path d="M141.50 113.50H159.30" stroke="#9544ab"/><path d="M141.50 106.00V114.00" stroke="#9544ab"/><path d="M143.50 121.50H159.30" stroke="#9544ab"/><path d="M143.50 128.50H159.30" stroke="#9544ab"/><path d="M143.50 121.00V129.00" stroke="#9544ab"/><path d="M141.50 124.50H143.70" stroke="#9544ab"/><path d="M141.50 135.50H159.30" stroke="#9544ab"/><path d="M141.50 124.00V136.00" stroke="#9544ab"/><path d="M152.50 157.50H159.30" stroke="#4262b2"/><path d="M152.50 165.50H159.30" stroke="#9544ab"/><path d="M152.50 157.00V166.00" stroke="#333"/><path d="M151.50 150.50H159.30" stroke="#9544ab"/><path d="M151.50 161.50H152.20" stroke="#333"/><path d="M151.50 150.00V162.00" stroke="#333"/><path d="M150.50 155.50H151.30" stroke="#333"/><path d="M150.50 172.50H159.30" stroke="#9544ab"/><path d="M150.50 155.00V173.00" stroke="#333"/><path d="M146.50 143.50H159.30" stroke="#e8e858"/><path d="M146.50 164.50H150.20" stroke="#333"/><path d="M146.50 143.00V165.00" stroke="#333"/><path d="M148.50 179.50H159.30" stroke="#e8e858"/><path d="M148.50 187.50H159.30" stroke="#e8e858"/><path d="M148.50 179.00V188.00" stroke="#e8e858"/><path d="M149.50 194.50H159.30" stroke="#9544ab"/><path d="M149.50 201.50H159.30" stroke="#9544ab"/><path d="M149.50 194.00V202.00" stroke="#9544ab"/><path d="M148.50 198.50H149.20" stroke="#9544ab"/><path d="M148.50 209.50H159.30" stroke="#e8e858"/><path d="M148.50 198.00V210.00" stroke="#333"/><path d="M147.50 183.50H148.50" stroke="#e8e858"/><path d="M147.50 203.50H148.00" stroke="#333"/><path d="M147.50 183.00V204.00" stroke="#333"/><path d="M148.50 223.50H159.30" stroke="#9544ab"/><path d="M148.50 231.50H159.30" stroke="#9544ab"/><path d="M148.50 223.00V232.00" stroke="#9544ab"/><path d="M145.50 216.50H159.30" stroke="#9544ab"/><path d="M145.50 227.50H148.70" stroke="#9544ab"/><path d="M145.50 216.00V228.00" stroke="#9544ab"/><path d="M144.50 193.50H147.50" stroke="#333"/><path d="M144.50 221.50H145.70" stroke="#9544ab"/><path d="M144.50 193.00V222.00" stroke="#333"/><path d="M144.50 153.50H146.40" stroke="#333"/><path d="M144.50 207.50H144.90" stroke="#333"/><path d="M144.50 153.00V208.00" stroke="#333"/><path d="M140.50 130.50H141.00" stroke="#9544ab"/><path d="M140.50 180.50H144.40" stroke="#333"/><path d="M140.50 130.00V181.00" stroke="#333"/><path d="M138.50 110.50H141.40" stroke="#9544ab"/><path d="M138.50 141.50H140.80" stroke="#333"/><path d="M138.50 110.00V142.00" stroke="#333"/><path d="M133.50 238.50H159.30" stroke="#9544ab"/><path d="M133.50 245.50H159.30" stroke="#9544ab"/><path d="M133.50 238.00V246.00" stroke="#9544ab"/><path d="M130.50 125.50H138.00" stroke="#333"/><path d="M130.50 242.50H133.60" stroke="#9544ab"/><path d="M130.50 125.00V243.00" stroke="#333"/><path d="M137.50 267.50H159.30" stroke="#9544ab"/><path d="M137.50 275.50H159.30" stroke="#9544ab"/><path d="M137.50 267.00V276.00" stroke="#9544ab"/><path d="M131.50 282.50H159.30" stroke="#9544ab"/><path d="M131.50 289.50H159.30" stroke="#9544ab"/><path d="M131.50 282.00V290.00" stroke="#9544ab"/><path d="M130.50 271.50H137.20" stroke="#9544ab"/><path d="M130.50 286.50H131.80" stroke="#9544ab"/><path d="M130.50 271.00V287.00" stroke="#9544ab"/><path d="M128.50 260.50H159.30" stroke="#9544ab"/><path d="M128.50 278.50H130.30" stroke="#9544ab"/><path d="M128.50 260.00V279.00" stroke="#9544ab"/><path d="M124.50 253.50H159.30" stroke="#9544ab"/><path d="M124.50 269.50H128.40" stroke="#9544ab"/><path d="M124.50 253.00V270.00" stroke="#9544ab"/><path d="M120.50 183.50H130.50" stroke="#333"/><path d="M120.50 261.50H124.50" stroke="#9544ab"/><path d="M120.50 183.00V262.00" stroke="#333"/><path d="M102.50 297.50H159.30" stroke="#e8e858"/><path d="M102.50 304.50H159.30" stroke="#e23c3c"/><path d="M102.50 297.00V305.00" stroke="#333"/><path d="M108.50 318.50H159.30" stroke="#e23c3c"/><path d="M108.50 326.50H159.30" stroke="#e23c3c"/><path d="M108.50 318.00V327.00" stroke="#e23c3c"/><path d="M96.50 311.50H159.30" stroke="#e23c3c"/><path d="M96.50 322.50H108.80" stroke="#e23c3c"/><path d="M96.50 311.00V323.00" stroke="#e23c3c"/><path d="M88.50 300.50H102.30" stroke="#333"/><path d="M88.50 317.50H96.30" stroke="#e23c3c"/><path d="M88.50 300.00V318.00" stroke="#333"/><path d="M107.50 348.50H159.30" stroke="#e8e858"/><path d="M107.50 355.50H159.30" stroke="#e23c3c"/><path d="M107.50 348.00V356.00" stroke="#333"/><path d="M92.50 340.50H159.30" stroke="#e8e858"/><path d="M92.50 351.50H107.60" stroke="#333"/><path d="M92.50 340.00V352.00" stroke="#333"/><path d="M74.50 333.50H159.30" stroke="#e23c3c"/><path d="M74.50 346.50H92.70" stroke="#333"/><path d="M74.50 333.00V347.00" stroke="#333"/><path d="M72.50 308.50H88.40" stroke="#333"/><path d="M72.50 340.50H74.70" stroke="#333"/><path d="M72.50 308.00V341.00" stroke="#333"/><path d="M55.50 222.50H120.90" stroke="#333"/><path d="M55.50 324.50H72.80" stroke="#333"/><path d="M55.50 222.00V325.00" stroke="#333"/><path d="M53.50 83.50H85.90" stroke="#4262b2"/><path d="M53.50 273.50H55.00" stroke="#333"/><path d="M53.50 83.00V274.00" stroke="#333"/><path d="M132.50 370.50H159.30" stroke="#e8e858"/><path d="M132.50 377.50H159.30" stroke="#e23c3c"/><path d="M132.50 370.00V378.00" stroke="#333"/><path d="M132.50 392.50H159.30" stroke="#9544ab"/><path d="M132.50 399.50H159.30" stroke="#9544ab"/><path d="M132.50 392.00V400.00" stroke="#9544ab"/><path d="M105.50 384.50H159.30" stroke="#9544ab"/><path d="M105.50 395.50H132.60" stroke="#9544ab"/><path d="M105.50 384.00V396.00" stroke="#9544ab"/><path d="M80.50 373.50H132.60" stroke="#333"/><path d="M80.50 390.50H105.60" stroke="#9544ab"/><path d="M80.50 373.00V391.00" stroke="#333"/><path d="M116.50 414.50H159.30" stroke="#e23c3c"/><path d="M116.50 421.50H159.30" stroke="#49a05e"/><path d="M116.50 414.00V422.00" stroke="#333"/><path d="M75.50 406.50H159.30" stroke="#49a05e"/><path d="M75.50 417.50H116.60" stroke="#333"/><path d="M75.50 406.00V418.00" stroke="#333"/><path d="M55.50 382.50H80.70" stroke="#333"/><path d="M55.50 412.50H75.60" stroke="#333"/><path d="M55.50 382.00V413.00" stroke="#333"/><path d="M44.50 362.50H159.30" stroke="#49a05e"/><path d="M44.50 397.50H55.50" stroke="#333"/><path d="M44.50 362.00V398.00" stroke="#333"/><path d="M42.50 178.50H53.50" stroke="#333"/><path d="M42.50 380.50H44.80" stroke="#333"/><path d="M42.50 178.00V381.00" stroke="#333"/><path d="M135.50 450.50H159.30" stroke="#ea6e44"/><path d="M135.50 458.50H159.30" stroke="#ea6e44"/><path d="M135.50 450.00V459.00" stroke="#ea6e44"/><path d="M131.50 443.50H159.30" stroke="#ea6e44"/><path d="M131.50 454.50H135.40" stroke="#ea6e44"/><path d="M131.50 443.00V455.00" stroke="#ea6e44"/><path d="M126.50 465.50H159.30" stroke="#ea6e44"/><path d="M126.50 472.50H159.30" stroke="#ea6e44"/><path d="M126.50 465.00V473.00" stroke="#ea6e44"/><path d="M124.50 449.50H131.30" stroke="#ea6e44"/><path d="M124.50 469.50H126.70" stroke="#ea6e44"/><path d="M124.50 449.00V470.00" stroke="#ea6e44"/><path d="M110.50 436.50H159.30" stroke="#ea6e44"/><path d="M110.50 459.50H124.50" stroke="#ea6e44"/><path d="M110.50 436.00V460.00" stroke="#ea6e44"/><path d="M98.50 480.50H159.30" stroke="#ea6e44"/><path d="M98.50 487.50H159.30" stroke="#ea6e44"/><path d="M98.50 480.00V488.00" stroke="#ea6e44"/><path d="M70.50 447.50H110.50" stroke="#ea6e44"/><path d="M70.50 483.50H98.80" stroke="#ea6e44"/><path d="M70.50 447.00V484.00" stroke="#ea6e44"/><path d="M40.50 428.50H159.30" stroke="#4262b2"/><path d="M40.50 465.50H70.20" stroke="#ea6e44"/><path d="M40.50 428.00V466.00" stroke="#333"/><path d="M32.50 279.50H42.50" stroke="#333"/><path d="M32.50 447.50H40.60" stroke="#333"/><path d="M32.50 279.00V448.00" stroke="#333"/><path d="M29.50 69.50H159.30" stroke="#49a05e"/><path d="M29.50 363.50H32.50" stroke="#333"/><path d="M29.50 69.00V364.00" stroke="#333"/><path d="M28.50 47.50H139.70" stroke="#49a05e"/><path d="M28.50 216.50H29.20" stroke="#333"/><path d="M28.50 47.00V217.00" stroke="#333"/></g>
<circle cx="159.3" cy="40.60" r="2.7" fill="#2a8a40"/>
<text x="162.8" y="43.70" font-family="Liberation Sans" font-size="8.6" fill="#222">S3_cpb</text>
<circle cx="159.3" cy="47.93" r="2.7" fill="#2a8a40"/>
<text x="162.8" y="51.03" font-family="Liberation Sans" font-size="8.6" fill="#222">S2_cpb</text>
<circle cx="159.3" cy="55.25" r="2.7" fill="#2a8a40"/>
<text x="162.8" y="58.35" font-family="Liberation Sans" font-size="8.6" fill="#222">S1_cpb</text>
<circle cx="159.3" cy="62.58" r="2.7" fill="#2a8a40"/>
<text x="162.8" y="65.68" font-family="Liberation Sans" font-size="8.6" fill="#222">S5_cpb</text>
<circle cx="159.3" cy="69.90" r="2.7" fill="#2a8a40"/>
<text x="162.8" y="73.00" font-family="Liberation Sans" font-size="8.6" fill="#222">S8_cpb</text>
<circle cx="159.3" cy="77.23" r="2.7" fill="#2c52a0"/>
<text x="162.8" y="80.33" font-family="Liberation Sans" font-size="8.6" fill="#222">N_wo</text>
<circle cx="159.3" cy="84.56" r="2.7" fill="#2c52a0"/>
<text x="162.8" y="87.66" font-family="Liberation Sans" font-size="8.6" fill="#222">N_po</text>
<circle cx="159.3" cy="91.88" r="2.7" fill="#2c52a0"/>
<text x="162.8" y="94.98" font-family="Liberation Sans" font-size="8.6" fill="#222">N_co</text>
<circle cx="159.3" cy="99.21" r="2.7" fill="#2c52a0"/>
<text x="162.8" y="102.31" font-family="Liberation Sans" font-size="8.6" fill="#222">N_cpb</text>
<circle cx="159.3" cy="106.53" r="2.7" fill="#6b2a88"/>
<text x="162.8" y="109.63" font-family="Liberation Sans" font-size="8.6" fill="#222">S2_po</text>
<circle cx="159.3" cy="113.86" r="2.7" fill="#6b2a88"/>
<text x="162.8" y="116.96" font-family="Liberation Sans" font-size="8.6" fill="#222">S8_co</text>
<circle cx="159.3" cy="121.19" r="2.7" fill="#6b2a88"/>
<text x="162.8" y="124.29" font-family="Liberation Sans" font-size="8.6" fill="#222">S5_co</text>
<circle cx="159.3" cy="128.51" r="2.7" fill="#6b2a88"/>
<text x="162.8" y="131.61" font-family="Liberation Sans" font-size="8.6" fill="#222">S5_po</text>
<circle cx="159.3" cy="135.84" r="2.7" fill="#6b2a88"/>
<text x="162.8" y="138.94" font-family="Liberation Sans" font-size="8.6" fill="#222">S1_co</text>
<circle cx="159.3" cy="143.16" r="2.7" fill="#e8e83c"/>
<text x="162.8" y="146.26" font-family="Liberation Sans" font-size="8.6" fill="#222">S7_indoor</text>
<circle cx="159.3" cy="150.49" r="2.7" fill="#6b2a88"/>
<text x="162.8" y="153.59" font-family="Liberation Sans" font-size="8.6" fill="#222">S4_co</text>
<circle cx="159.3" cy="157.82" r="2.7" fill="#2c52a0"/>
<text x="162.8" y="160.92" font-family="Liberation Sans" font-size="8.6" fill="#222">N_indoor</text>
<circle cx="159.3" cy="165.14" r="2.7" fill="#6b2a88"/>
<text x="162.8" y="168.24" font-family="Liberation Sans" font-size="8.6" fill="#222">S6_co</text>
<circle cx="159.3" cy="172.47" r="2.7" fill="#6b2a88"/>
<text x="162.8" y="175.57" font-family="Liberation Sans" font-size="8.6" fill="#222">S4_po</text>
<circle cx="159.3" cy="179.79" r="2.7" fill="#e8e83c"/>
<text x="162.8" y="182.89" font-family="Liberation Sans" font-size="8.6" fill="#222">S6_indoor</text>
<circle cx="159.3" cy="187.12" r="2.7" fill="#e8e83c"/>
<text x="162.8" y="190.22" font-family="Liberation Sans" font-size="8.6" fill="#222">S8_indoor</text>
<circle cx="159.3" cy="194.45" r="2.7" fill="#6b2a88"/>
<text x="162.8" y="197.55" font-family="Liberation Sans" font-size="8.6" fill="#222">S6_po</text>
<circle cx="159.3" cy="201.77" r="2.7" fill="#6b2a88"/>
<text x="162.8" y="204.87" font-family="Liberation Sans" font-size="8.6" fill="#222">S2_co</text>
<circle cx="159.3" cy="209.10" r="2.7" fill="#e8e83c"/>
<text x="162.8" y="212.20" font-family="Liberation Sans" font-size="8.6" fill="#222">S5_indoor</text>
<circle cx="159.3" cy="216.42" r="2.7" fill="#6b2a88"/>
<text x="162.8" y="219.52" font-family="Liberation Sans" font-size="8.6" fill="#222">S6_wo</text>
<circle cx="159.3" cy="223.75" r="2.7" fill="#6b2a88"/>
<text x="162.8" y="226.85" font-family="Liberation Sans" font-size="8.6" fill="#222">S3_co</text>
<circle cx="159.3" cy="231.08" r="2.7" fill="#6b2a88"/>
<text x="162.8" y="234.18" font-family="Liberation Sans" font-size="8.6" fill="#222">S4_wo</text>
<circle cx="159.3" cy="238.40" r="2.7" fill="#6b2a88"/>
<text x="162.8" y="241.50" font-family="Liberation Sans" font-size="8.6" fill="#222">S2_wo</text>
<circle cx="159.3" cy="245.73" r="2.7" fill="#6b2a88"/>
<text x="162.8" y="248.83" font-family="Liberation Sans" font-size="8.6" fill="#222">S5_wo</text>
<circle cx="159.3" cy="253.05" r="2.7" fill="#6b2a88"/>
<text x="162.8" y="256.15" font-family="Liberation Sans" font-size="8.6" fill="#222">S8_wo</text>
<circle cx="159.3" cy="260.38" r="2.7" fill="#6b2a88"/>
<text x="162.8" y="263.48" font-family="Liberation Sans" font-size="8.6" fill="#222">S3_po</text>
<circle cx="159.3" cy="267.71" r="2.7" fill="#6b2a88"/>
<text x="162.8" y="270.81" font-family="Liberation Sans" font-size="8.6" fill="#222">S1_po</text>
<circle cx="159.3" cy="275.03" r="2.7" fill="#6b2a88"/>
<text x="162.8" y="278.13" font-family="Liberation Sans" font-size="8.6" fill="#222">S6_po</text>
<circle cx="159.3" cy="282.36" r="2.7" fill="#6b2a88"/>
<text x="162.8" y="285.46" font-family="Liberation Sans" font-size="8.6" fill="#222">S1_wo</text>
<circle cx="159.3" cy="289.68" r="2.7" fill="#6b2a88"/>
<text x="162.8" y="292.78" font-family="Liberation Sans" font-size="8.6" fill="#222">S3_wo</text>
<circle cx="159.3" cy="297.01" r="2.7" fill="#e8e83c"/>
<text x="162.8" y="300.11" font-family="Liberation Sans" font-size="8.6" fill="#222">S2_indoor</text>
<circle cx="159.3" cy="304.34" r="2.7" fill="#e01e22"/>
<text x="162.8" y="307.44" font-family="Liberation Sans" font-size="8.6" fill="#222">S4</text>
<circle cx="159.3" cy="311.66" r="2.7" fill="#e01e22"/>
<text x="162.8" y="314.76" font-family="Liberation Sans" font-size="8.6" fill="#222">S8</text>
<circle cx="159.3" cy="318.99" r="2.7" fill="#e01e22"/>
<text x="162.8" y="322.09" font-family="Liberation Sans" font-size="8.6" fill="#222">S1</text>
<circle cx="159.3" cy="326.31" r="2.7" fill="#e01e22"/>
<text x="162.8" y="329.41" font-family="Liberation Sans" font-size="8.6" fill="#222">S6</text>
<circle cx="159.3" cy="333.64" r="2.7" fill="#e01e22"/>
<text x="162.8" y="336.74" font-family="Liberation Sans" font-size="8.6" fill="#222">S5</text>
<circle cx="159.3" cy="340.97" r="2.7" fill="#e8e83c"/>
<text x="162.8" y="344.07" font-family="Liberation Sans" font-size="8.6" fill="#222">S3_indoor</text>
<circle cx="159.3" cy="348.29" r="2.7" fill="#e8e83c"/>
<text x="162.8" y="351.39" font-family="Liberation Sans" font-size="8.6" fill="#222">S1_indoor</text>
<circle cx="159.3" cy="355.62" r="2.7" fill="#e01e22"/>
<text x="162.8" y="358.72" font-family="Liberation Sans" font-size="8.6" fill="#222">S2</text>
<circle cx="159.3" cy="362.94" r="2.7" fill="#2a8a40"/>
<text x="162.8" y="366.04" font-family="Liberation Sans" font-size="8.6" fill="#222">S6_cpb</text>
<circle cx="159.3" cy="370.27" r="2.7" fill="#e8e83c"/>
<text x="162.8" y="373.37" font-family="Liberation Sans" font-size="8.6" fill="#222">S4_indoor</text>
<circle cx="159.3" cy="377.60" r="2.7" fill="#e01e22"/>
<text x="162.8" y="380.70" font-family="Liberation Sans" font-size="8.6" fill="#222">S7</text>
<circle cx="159.3" cy="384.92" r="2.7" fill="#6b2a88"/>
<text x="162.8" y="388.02" font-family="Liberation Sans" font-size="8.6" fill="#222">S7_wo</text>
<circle cx="159.3" cy="392.25" r="2.7" fill="#6b2a88"/>
<text x="162.8" y="395.35" font-family="Liberation Sans" font-size="8.6" fill="#222">S7_co</text>
<circle cx="159.3" cy="399.57" r="2.7" fill="#6b2a88"/>
<text x="162.8" y="402.67" font-family="Liberation Sans" font-size="8.6" fill="#222">S7_po</text>
<circle cx="159.3" cy="406.90" r="2.7" fill="#2a8a40"/>
<text x="162.8" y="410.00" font-family="Liberation Sans" font-size="8.6" fill="#222">S4_cpb</text>
<circle cx="159.3" cy="414.23" r="2.7" fill="#e01e22"/>
<text x="162.8" y="417.33" font-family="Liberation Sans" font-size="8.6" fill="#222">S3</text>
<circle cx="159.3" cy="421.55" r="2.7" fill="#2a8a40"/>
<text x="162.8" y="424.65" font-family="Liberation Sans" font-size="8.6" fill="#222">S7_cpb</text>
<circle cx="159.3" cy="428.88" r="2.7" fill="#2c52a0"/>
<text x="162.8" y="431.98" font-family="Liberation Sans" font-size="8.6" fill="#222">N_soil</text>
<circle cx="159.3" cy="436.20" r="2.7" fill="#e8552f"/>
<text x="162.8" y="439.30" font-family="Liberation Sans" font-size="8.6" fill="#222">S4_soil</text>
<circle cx="159.3" cy="443.53" r="2.7" fill="#e8552f"/>
<text x="162.8" y="446.63" font-family="Liberation Sans" font-size="8.6" fill="#222">S2_soil</text>
<circle cx="159.3" cy="450.86" r="2.7" fill="#e8552f"/>
<text x="162.8" y="453.96" font-family="Liberation Sans" font-size="8.6" fill="#222">S6_soil</text>
<circle cx="159.3" cy="458.18" r="2.7" fill="#e8552f"/>
<text x="162.8" y="461.28" font-family="Liberation Sans" font-size="8.6" fill="#222">S7_soil</text>
<circle cx="159.3" cy="465.51" r="2.7" fill="#e8552f"/>
<text x="162.8" y="468.61" font-family="Liberation Sans" font-size="8.6" fill="#222">S1_soil</text>
<circle cx="159.3" cy="472.83" r="2.7" fill="#e8552f"/>
<text x="162.8" y="475.93" font-family="Liberation Sans" font-size="8.6" fill="#222">S3_soil</text>
<circle cx="159.3" cy="480.16" r="2.7" fill="#e8552f"/>
<text x="162.8" y="483.26" font-family="Liberation Sans" font-size="8.6" fill="#222">S5_soil</text>
<circle cx="159.3" cy="487.49" r="2.7" fill="#e8552f"/>
<text x="162.8" y="490.59" font-family="Liberation Sans" font-size="8.6" fill="#222">S8_soil</text>
<line x1="29.2" y1="492" x2="159.3" y2="492" stroke="#555" stroke-width="0.9"/>
<line x1="159.3" y1="492" x2="159.3" y2="494.6" stroke="#555" stroke-width="0.9"/>
<text x="159.3" y="504" font-family="Liberation Sans" font-size="8.6" text-anchor="middle" fill="#333">0</text>
<line x1="106.1" y1="492" x2="106.1" y2="494.6" stroke="#555" stroke-width="0.9"/>
<text x="106.1" y="504" font-family="Liberation Sans" font-size="8.6" text-anchor="middle" fill="#333">0.2</text>
<line x1="52.9" y1="492" x2="52.9" y2="494.6" stroke="#555" stroke-width="0.9"/>
<text x="52.9" y="504" font-family="Liberation Sans" font-size="8.6" text-anchor="middle" fill="#333">0.4</text>
<line x1="29.2" y1="492" x2="29.2" y2="494.6" stroke="#555" stroke-width="0.9"/>
<text x="602" y="25" font-family="Liberation Sans" font-weight="bold" font-size="8.6" fill="#222">Group</text>
<line x1="601" y1="36.10" x2="609.5" y2="36.10" stroke="#e26060" stroke-width="1"/>
<text x="612.3" y="38.80" font-family="Liberation Serif" font-size="7.8" fill="#222">Positive_control</text>
<line x1="601" y1="50.72" x2="609.5" y2="50.72" stroke="#7a9ad0" stroke-width="1"/>
<text x="612.3" y="53.42" font-family="Liberation Serif" font-size="7.8" fill="#222">Negative_control</text>
<line x1="601" y1="65.34" x2="609.5" y2="65.34" stroke="#5aa868" stroke-width="1"/>
<text x="612.3" y="68.04" font-family="Liberation Serif" font-size="7.8" fill="#222">Cpb</text>
<line x1="601" y1="79.96" x2="609.5" y2="79.96" stroke="#f2f08a" stroke-width="1"/>
<text x="612.3" y="82.66" font-family="Liberation Serif" font-size="7.8" fill="#222">Indoor</text>
<line x1="601" y1="94.58" x2="609.5" y2="94.58" stroke="#9a60b8" stroke-width="1"/>
<text x="612.3" y="97.28" font-family="Liberation Serif" font-size="7.8" fill="#222">Carriers</text>
<line x1="601" y1="109.20" x2="609.5" y2="109.20" stroke="#f0a080" stroke-width="1"/>
<text x="612.3" y="111.90" font-family="Liberation Serif" font-size="7.8" fill="#222">Soil</text>
<text x="691" y="25" font-family="Liberation Sans" font-weight="bold" font-size="8.6" fill="#222">Taxa</text>
<rect x="689.7" y="31.10" width="9" height="9" fill="#e24a33"/>
<text x="701.8" y="38.40" font-family="Liberation Serif" font-size="7.95" fill="#222">OTU4320</text>
<rect x="689.7" y="45.64" width="9" height="9" fill="#48b3d3"/>
<text x="701.8" y="52.94" font-family="Liberation Serif" font-size="7.95" fill="#222">OTU2072</text>
<rect x="689.7" y="60.18" width="9" height="9" fill="#1f9a82"/>
<text x="701.8" y="67.48" font-family="Liberation Serif" font-size="7.95" fill="#222">OTU1594</text>
<rect x="689.7" y="74.72" width="9" height="9" fill="#394f88"/>
<text x="701.8" y="82.02" font-family="Liberation Serif" font-size="7.95" fill="#222">OTU1938</text>
<rect x="689.7" y="89.26" width="9" height="9" fill="#ee9171"/>
<text x="701.8" y="96.56" font-family="Liberation Serif" font-size="7.95" fill="#222">OTU4882</text>
<rect x="689.7" y="103.80" width="9" height="9" fill="#8592bc"/>
<text x="701.8" y="111.10" font-family="Liberation Serif" font-size="7.95" fill="#222">OTU4448</text>
<rect x="689.7" y="118.34" width="9" height="9" fill="#8fcdbf"/>
<text x="701.8" y="125.64" font-family="Liberation Serif" font-size="7.95" fill="#222">OTU1355</text>
<rect x="689.7" y="132.88" width="9" height="9" fill="#cd1f2b"/>
<text x="701.8" y="140.18" font-family="Liberation Serif" font-size="7.95" fill="#222">OTU4912</text>
<rect x="689.7" y="147.42" width="9" height="9" fill="#7b5a44"/>
<text x="701.8" y="154.72" font-family="Liberation Serif" font-size="7.95" fill="#222">OTU5324</text>
<rect x="689.7" y="161.96" width="9" height="9" fill="#cccccc"/>
<text x="701.8" y="169.26" font-family="Liberation Serif" font-size="7.95" fill="#222">OTU943</text>
<rect x="689.7" y="176.50" width="9" height="9" fill="#5bbba1"/>
<text x="701.8" y="183.80" font-family="Liberation Serif" font-size="7.95" fill="#222">OTU4094</text>
<rect x="689.7" y="191.04" width="9" height="9" fill="#ef8459"/>
<text x="701.8" y="198.34" font-family="Liberation Serif" font-size="7.95" fill="#222">OTU74</text>
<rect x="689.7" y="205.58" width="9" height="9" fill="#7e8dc6"/>
<text x="701.8" y="212.88" font-family="Liberation Serif" font-size="7.95" fill="#222">OTU4219</text>
<rect x="689.7" y="220.12" width="9" height="9" fill="#dc7dc3"/>
<text x="701.8" y="227.42" font-family="Liberation Serif" font-size="7.95" fill="#222">OTU4589</text>
<rect x="689.7" y="234.66" width="9" height="9" fill="#8ccd58"/>
<text x="701.8" y="241.96" font-family="Liberation Serif" font-size="7.95" fill="#222">OTU4296</text>
<rect x="689.7" y="249.20" width="9" height="9" fill="#fbd535"/>
<text x="701.8" y="256.50" font-family="Liberation Serif" font-size="7.95" fill="#222">OTU2956</text>
<rect x="689.7" y="263.74" width="9" height="9" fill="#dfc095"/>
<text x="701.8" y="271.04" font-family="Liberation Serif" font-size="7.95" fill="#222">OTU3128</text>
<rect x="689.7" y="278.28" width="9" height="9" fill="#b0b0b0"/>
<text x="701.8" y="285.58" font-family="Liberation Serif" font-size="7.95" fill="#222">OTU1819</text>
<rect x="689.7" y="292.82" width="9" height="9" fill="#7ac6c1"/>
<text x="701.8" y="300.12" font-family="Liberation Serif" font-size="7.95" fill="#222">OTU167</text>
<rect x="689.7" y="307.36" width="9" height="9" fill="#f6f2a8"/>
<text x="701.8" y="314.66" font-family="Liberation Serif" font-size="7.95" fill="#222">OTU1770</text>
<rect x="689.7" y="321.90" width="9" height="9" fill="#b6b2d9"/>
<text x="701.8" y="329.20" font-family="Liberation Serif" font-size="7.95" fill="#222">OTU2871</text>
<rect x="689.7" y="336.44" width="9" height="9" fill="#ee7262"/>
<text x="701.8" y="343.74" font-family="Liberation Serif" font-size="7.95" fill="#222">OTU2988</text>
<rect x="689.7" y="350.98" width="9" height="9" fill="#6c9bca"/>
<text x="701.8" y="358.28" font-family="Liberation Serif" font-size="7.95" fill="#222">OTU722</text>
<rect x="689.7" y="365.52" width="9" height="9" fill="#f5a451"/>
<text x="701.8" y="372.82" font-family="Liberation Serif" font-size="7.95" fill="#222">OTU2353</text>
<rect x="689.7" y="380.06" width="9" height="9" fill="#9dce60"/>
<text x="701.8" y="387.36" font-family="Liberation Serif" font-size="7.95" fill="#222">OTU3414</text>
<rect x="689.7" y="394.60" width="9" height="9" fill="#f2c9e0"/>
<text x="701.8" y="401.90" font-family="Liberation Serif" font-size="7.95" fill="#222">OTU4884</text>
<rect x="689.7" y="409.14" width="9" height="9" fill="#d8d8d8"/>
<text x="701.8" y="416.44" font-family="Liberation Serif" font-size="7.95" fill="#222">OTU3850</text>
<rect x="689.7" y="423.68" width="9" height="9" fill="#9a68ae"/>
<text x="701.8" y="430.98" font-family="Liberation Serif" font-size="7.95" fill="#222">OTU1221</text>
<rect x="689.7" y="438.22" width="9" height="9" fill="#c7e2bf"/>
<text x="701.8" y="445.52" font-family="Liberation Serif" font-size="7.95" fill="#222">OTU3023</text>
<rect x="689.7" y="452.76" width="9" height="9" fill="#f0e24a"/>
<text x="701.8" y="460.06" font-family="Liberation Serif" font-size="7.95" fill="#222">OTU3142</text>
<rect x="689.7" y="467.30" width="9" height="9" fill="#f2a59e"/>
<text x="701.8" y="474.60" font-family="Liberation Serif" font-size="7.95" fill="#222">OTU3010</text>
<rect x="689.7" y="481.84" width="9" height="9" fill="#a8c6e3"/>
<text x="701.8" y="489.14" font-family="Liberation Serif" font-size="7.95" fill="#222">OTU4449</text>
<rect x="689.7" y="496.38" width="9" height="9" fill="#d0c7df"/>
<text x="701.8" y="503.68" font-family="Liberation Serif" font-size="7.95" fill="#222">OTU127</text>
<rect x="742" y="31.10" width="9" height="9" fill="#f5c98d"/>
<text x="752.6" y="38.40" font-family="Liberation Serif" font-size="7.95" fill="#222">OTU3021</text>
<rect x="742" y="45.64" width="9" height="9" fill="#f9f3b3"/>
<text x="752.6" y="52.94" font-family="Liberation Serif" font-size="7.95" fill="#222">OTU129</text>
<rect x="742" y="60.18" width="9" height="9" fill="#dbcab0"/>
<text x="752.6" y="67.48" font-family="Liberation Serif" font-size="7.95" fill="#222">OTU5181</text>
<rect x="742" y="74.72" width="9" height="9" fill="#f5cde1"/>
<text x="752.6" y="82.02" font-family="Liberation Serif" font-size="7.95" fill="#222">OTU210</text>
<rect x="742" y="89.26" width="9" height="9" fill="#efefef"/>
<text x="752.6" y="96.56" font-family="Liberation Serif" font-size="7.95" fill="#222">others</text>
<text x="0.6" y="575.8" font-family="Liberation Serif" font-size="24.5" fill="#222">B</text>
<text x="229.8" y="573.9" font-family="Liberation Sans" font-size="11" text-anchor="middle" fill="#222" textLength="100.3" lengthAdjust="spacingAndGlyphs">NMDS on OTU level</text>
<text x="235.1" y="583.3" font-family="Liberation Sans" font-size="7.3" text-anchor="middle" fill="#333" textLength="138" lengthAdjust="spacingAndGlyphs">stress :0.133, R=0.4900, P=0.001000</text>
<path d="M69.4 601.4H333.8V843.9H69.4Z" fill="none" stroke="#777" stroke-width="1"/>
<path d="M69.4 601.4V843.9H333.8" fill="none" stroke="#888" stroke-width="1.3"/>
<line x1="223.61" y1="601.4" x2="223.61" y2="843.9" stroke="#555" stroke-width="0.8" stroke-dasharray="1.6,1.6"/>
<line x1="69.4" y1="740.42" x2="333.8" y2="740.42" stroke="#555" stroke-width="0.8" stroke-dasharray="1.6,1.6"/>
<line x1="66.9" y1="601.40" x2="69.4" y2="601.40" stroke="#777" stroke-width="0.9"/>
<text x="65" y="604.20" font-family="Liberation Sans" font-size="7.9" text-anchor="end" fill="#444">0.6</text>
<line x1="66.9" y1="624.57" x2="69.4" y2="624.57" stroke="#777" stroke-width="0.9"/>
<text x="65" y="627.37" font-family="Liberation Sans" font-size="7.9" text-anchor="end" fill="#444">0.5</text>
<line x1="66.9" y1="647.74" x2="69.4" y2="647.74" stroke="#777" stroke-width="0.9"/>
<text x="65" y="650.54" font-family="Liberation Sans" font-size="7.9" text-anchor="end" fill="#444">0.4</text>
<line x1="66.9" y1="670.91" x2="69.4" y2="670.91" stroke="#777" stroke-width="0.9"/>
<text x="65" y="673.71" font-family="Liberation Sans" font-size="7.9" text-anchor="end" fill="#444">0.3</text>
<line x1="66.9" y1="694.08" x2="69.4" y2="694.08" stroke="#777" stroke-width="0.9"/>
<text x="65" y="696.88" font-family="Liberation Sans" font-size="7.9" text-anchor="end" fill="#444">0.2</text>
<line x1="66.9" y1="717.25" x2="69.4" y2="717.25" stroke="#777" stroke-width="0.9"/>
<text x="65" y="720.05" font-family="Liberation Sans" font-size="7.9" text-anchor="end" fill="#444">0.1</text>
<line x1="66.9" y1="740.42" x2="69.4" y2="740.42" stroke="#777" stroke-width="0.9"/>
<text x="65" y="743.22" font-family="Liberation Sans" font-size="7.9" text-anchor="end" fill="#444">0</text>
<line x1="66.9" y1="763.59" x2="69.4" y2="763.59" stroke="#777" stroke-width="0.9"/>
<text x="65" y="766.39" font-family="Liberation Sans" font-size="7.9" text-anchor="end" fill="#444">-0.1</text>
<line x1="66.9" y1="786.76" x2="69.4" y2="786.76" stroke="#777" stroke-width="0.9"/>
<text x="65" y="789.56" font-family="Liberation Sans" font-size="7.9" text-anchor="end" fill="#444">-0.2</text>
<line x1="66.9" y1="809.93" x2="69.4" y2="809.93" stroke="#777" stroke-width="0.9"/>
<text x="65" y="812.73" font-family="Liberation Sans" font-size="7.9" text-anchor="end" fill="#444">-0.3</text>
<line x1="66.9" y1="833.10" x2="69.4" y2="833.10" stroke="#777" stroke-width="0.9"/>
<text x="65" y="835.90" font-family="Liberation Sans" font-size="7.9" text-anchor="end" fill="#444">-0.4</text>
<line x1="69.40" y1="843.9" x2="69.40" y2="846.6" stroke="#777" stroke-width="0.9"/>
<text x="69.40" y="855.3" font-family="Liberation Sans" font-size="7.9" text-anchor="middle" fill="#444">-0.7</text>
<line x1="91.43" y1="843.9" x2="91.43" y2="846.6" stroke="#777" stroke-width="0.9"/>
<text x="91.43" y="855.3" font-family="Liberation Sans" font-size="7.9" text-anchor="middle" fill="#444">-0.6</text>
<line x1="113.46" y1="843.9" x2="113.46" y2="846.6" stroke="#777" stroke-width="0.9"/>
<text x="113.46" y="855.3" font-family="Liberation Sans" font-size="7.9" text-anchor="middle" fill="#444">-0.5</text>
<line x1="135.49" y1="843.9" x2="135.49" y2="846.6" stroke="#777" stroke-width="0.9"/>
<text x="135.49" y="855.3" font-family="Liberation Sans" font-size="7.9" text-anchor="middle" fill="#444">-0.4</text>
<line x1="157.52" y1="843.9" x2="157.52" y2="846.6" stroke="#777" stroke-width="0.9"/>
<text x="157.52" y="855.3" font-family="Liberation Sans" font-size="7.9" text-anchor="middle" fill="#444">-0.3</text>
<line x1="179.55" y1="843.9" x2="179.55" y2="846.6" stroke="#777" stroke-width="0.9"/>
<text x="179.55" y="855.3" font-family="Liberation Sans" font-size="7.9" text-anchor="middle" fill="#444">-0.2</text>
<line x1="201.58" y1="843.9" x2="201.58" y2="846.6" stroke="#777" stroke-width="0.9"/>
<text x="201.58" y="855.3" font-family="Liberation Sans" font-size="7.9" text-anchor="middle" fill="#444">-0.1</text>
<line x1="223.61" y1="843.9" x2="223.61" y2="846.6" stroke="#777" stroke-width="0.9"/>
<text x="223.61" y="855.3" font-family="Liberation Sans" font-size="7.9" text-anchor="middle" fill="#444">0</text>
<line x1="245.64" y1="843.9" x2="245.64" y2="846.6" stroke="#777" stroke-width="0.9"/>
<text x="245.64" y="855.3" font-family="Liberation Sans" font-size="7.9" text-anchor="middle" fill="#444">0.1</text>
<line x1="267.67" y1="843.9" x2="267.67" y2="846.6" stroke="#777" stroke-width="0.9"/>
<text x="267.67" y="855.3" font-family="Liberation Sans" font-size="7.9" text-anchor="middle" fill="#444">0.2</text>
<line x1="289.70" y1="843.9" x2="289.70" y2="846.6" stroke="#777" stroke-width="0.9"/>
<text x="289.70" y="855.3" font-family="Liberation Sans" font-size="7.9" text-anchor="middle" fill="#444">0.3</text>
<line x1="311.73" y1="843.9" x2="311.73" y2="846.6" stroke="#777" stroke-width="0.9"/>
<text x="311.73" y="855.3" font-family="Liberation Sans" font-size="7.9" text-anchor="middle" fill="#444">0.4</text>
<line x1="333.76" y1="843.9" x2="333.76" y2="846.6" stroke="#777" stroke-width="0.9"/>
<text x="333.76" y="855.3" font-family="Liberation Sans" font-size="7.9" text-anchor="middle" fill="#444">0.5</text>
<text x="204.9" y="863.6" font-family="Liberation Sans" font-size="10.5" text-anchor="middle" fill="#222">NMDS1</text>
<text transform="translate(45.6,712.8) rotate(-90)" font-family="Liberation Sans" font-size="11.3" text-anchor="middle" fill="#222">NMDS2</text>
<ellipse cx="179.5" cy="663.8" rx="94.7" ry="11.4" transform="rotate(-18.4 179.5 663.8)" fill="none" stroke="#d9685c" stroke-width="0.8"/>
<ellipse cx="198.2" cy="728.4" rx="11" ry="43.9" transform="rotate(27.3 198.2 728.4)" fill="none" stroke="#5fb0c8" stroke-width="0.8"/>
<ellipse cx="218.3" cy="742.5" rx="6" ry="58" transform="rotate(3.9 218.3 742.5)" fill="none" stroke="#3f9c8a" stroke-width="0.8"/>
<ellipse cx="224.8" cy="758.2" rx="7" ry="44.6" transform="rotate(18.9 224.8 758.2)" fill="none" stroke="#4a5d8e" stroke-width="0.8"/>
<ellipse cx="223.5" cy="765" rx="4" ry="25.1" transform="rotate(15.8 223.5 765)" fill="none" stroke="#98c8bc" stroke-width="0.8"/>
<ellipse cx="221.5" cy="762" rx="5" ry="30" transform="rotate(12 221.5 762)" fill="none" stroke="#8a95b8" stroke-width="0.8"/>
<ellipse cx="303.7" cy="725.8" rx="8" ry="26.7" transform="rotate(-26.6 303.7 725.8)" fill="none" stroke="#e39a82" stroke-width="0.8"/>
<ellipse cx="210.7" cy="789.5" rx="72.3" ry="10.9" transform="rotate(-7.2 210.7 789.5)" fill="none" stroke="#cf4450" stroke-width="0.8"/>
<circle cx="234.5" cy="628.8" r="3.3" fill="#e0452f"/>
<circle cx="253" cy="644.5" r="3.3" fill="#e0452f"/>
<circle cx="265.1" cy="646.5" r="3.3" fill="#e0452f"/>
<circle cx="188.6" cy="652.8" r="3.3" fill="#e0452f"/>
<circle cx="133" cy="679.3" r="3.3" fill="#e0452f"/>
<circle cx="138.6" cy="683.9" r="3.3" fill="#e0452f"/>
<circle cx="109" cy="686.4" r="3.3" fill="#e0452f"/>
<circle cx="113.3" cy="686.9" r="3.3" fill="#e0452f"/>
<circle cx="285.6" cy="697.4" r="3.3" fill="#ee9171"/>
<circle cx="293" cy="705.5" r="3.3" fill="#ee9171"/>
<circle cx="304.1" cy="719.2" r="3.3" fill="#ee9171"/>
<circle cx="307.7" cy="727.1" r="3.3" fill="#ee9171"/>
<circle cx="313" cy="727" r="3.3" fill="#ee9171"/>
<circle cx="304.1" cy="738.2" r="3.3" fill="#ee9171"/>
<circle cx="306.4" cy="739.2" r="3.3" fill="#ee9171"/>
<circle cx="308.9" cy="748.7" r="3.3" fill="#ee9171"/>
<circle cx="223.1" cy="676.6" r="3.3" fill="#48b3d3"/>
<circle cx="219.1" cy="707" r="3.3" fill="#48b3d3"/>
<circle cx="199.8" cy="720.7" r="3.3" fill="#48b3d3"/>
<circle cx="179.7" cy="726.4" r="3.3" fill="#48b3d3"/>
<circle cx="206.7" cy="734.4" r="3.3" fill="#48b3d3"/>
<circle cx="190.6" cy="749.7" r="3.3" fill="#48b3d3"/>
<circle cx="188" cy="755.3" r="3.3" fill="#48b3d3"/>
<circle cx="186.1" cy="757.8" r="3.3" fill="#48b3d3"/>
<circle cx="223.1" cy="671.2" r="3.3" fill="#1f9a82"/>
<circle cx="224.8" cy="706.2" r="3.3" fill="#1f9a82"/>
<circle cx="215.1" cy="719.1" r="3.3" fill="#1f9a82"/>
<circle cx="217.5" cy="724.8" r="3.3" fill="#1f9a82"/>
<circle cx="235.2" cy="723.9" r="3.3" fill="#8fcdbf"/>
<circle cx="247.1" cy="683" r="3.3" fill="#3b4f8a"/>
<circle cx="215.1" cy="771.4" r="3.3" fill="#8592bc"/>
<circle cx="226.4" cy="769" r="3.3" fill="#8592bc"/>
<circle cx="218.3" cy="768.2" r="3.3" fill="#8fcdbf"/>
<circle cx="223.1" cy="766.6" r="3.3" fill="#8fcdbf"/>
<circle cx="228" cy="766.6" r="3.3" fill="#8fcdbf"/>
<circle cx="229.6" cy="765" r="3.3" fill="#8fcdbf"/>
<circle cx="221" cy="770" r="3.3" fill="#8fcdbf"/>
<circle cx="211.9" cy="764.2" r="3.3" fill="#3b4f8a"/>
<circle cx="216.7" cy="761.8" r="3.3" fill="#3b4f8a"/>
<circle cx="230.4" cy="772.3" r="3.3" fill="#3b4f8a"/>
<circle cx="232" cy="773.1" r="3.3" fill="#3b4f8a"/>
<circle cx="219.9" cy="776.3" r="3.3" fill="#cd1f2b"/>
<circle cx="172.6" cy="786.1" r="3.3" fill="#cd1f2b"/>
<circle cx="183.7" cy="795.8" r="3.3" fill="#cd1f2b"/>
<circle cx="186.1" cy="797.4" r="3.3" fill="#cd1f2b"/>
<circle cx="190.1" cy="801.2" r="3.3" fill="#cd1f2b"/>
<circle cx="311.6" cy="778" r="3.3" fill="#cd1f2b"/>
<circle cx="346.2" cy="603.30" r="3.7" fill="#e0452f"/>
<text x="352" y="606.50" font-family="Liberation Sans" font-size="8.2" fill="#333">Cpb</text>
<circle cx="346.2" cy="614.73" r="3.7" fill="#48b3d3"/>
<text x="352" y="617.93" font-family="Liberation Sans" font-size="8.2" fill="#333">Positive_control</text>
<circle cx="346.2" cy="626.16" r="3.7" fill="#1f9a82"/>
<text x="352" y="629.36" font-family="Liberation Sans" font-size="8.2" fill="#333">Indoor</text>
<circle cx="346.2" cy="637.59" r="3.7" fill="#3b4f8a"/>
<text x="352" y="640.79" font-family="Liberation Sans" font-size="8.2" fill="#333">Wo</text>
<circle cx="346.2" cy="649.02" r="3.7" fill="#ee9171"/>
<text x="352" y="652.22" font-family="Liberation Sans" font-size="8.2" fill="#333">Soil</text>
<circle cx="346.2" cy="660.45" r="3.7" fill="#8592bc"/>
<text x="352" y="663.65" font-family="Liberation Sans" font-size="8.2" fill="#333">Po</text>
<circle cx="346.2" cy="671.88" r="3.7" fill="#8fcdbf"/>
<text x="352" y="675.08" font-family="Liberation Sans" font-size="8.2" fill="#333">Co</text>
<circle cx="346.2" cy="683.31" r="3.7" fill="#cd1f2b"/>
<text x="352" y="686.51" font-family="Liberation Sans" font-size="8.2" fill="#333">Negative_control</text>
<text x="448.6" y="575.6" font-family="Liberation Serif" font-size="25" fill="#222">C</text>
<text x="631.1" y="574.3" font-family="Liberation Sans" font-weight="bold" font-size="10.8" text-anchor="middle" fill="#111" textLength="103" lengthAdjust="spacingAndGlyphs">NMDS on OTU level</text>
<text x="635.4" y="582.9" font-family="Liberation Sans" font-size="7.3" text-anchor="middle" fill="#333" textLength="137.4" lengthAdjust="spacingAndGlyphs">stress :0.079, R=0.1696, P=0.001000</text>
<path d="M481.0 599.7H751.3V849.2H481.0Z" fill="none" stroke="#888" stroke-width="1"/>
<path d="M481.0 599.7V849.2H751.3" fill="none" stroke="#999" stroke-width="1.4"/>
<line x1="616.12" y1="599.7" x2="616.12" y2="849.2" stroke="#555" stroke-width="0.8" stroke-dasharray="1.6,1.6"/>
<line x1="481.0" y1="695.38" x2="751.3" y2="695.38" stroke="#555" stroke-width="0.8" stroke-dasharray="1.6,1.6"/>
<line x1="478.6" y1="599.50" x2="481.0" y2="599.50" stroke="#888" stroke-width="0.9"/>
<text x="476.7" y="601.90" font-family="Liberation Sans" font-size="6.9" text-anchor="end" fill="#444">0.4</text>
<line x1="478.6" y1="623.47" x2="481.0" y2="623.47" stroke="#888" stroke-width="0.9"/>
<text x="476.7" y="625.87" font-family="Liberation Sans" font-size="6.9" text-anchor="end" fill="#444">0.3</text>
<line x1="478.6" y1="647.44" x2="481.0" y2="647.44" stroke="#888" stroke-width="0.9"/>
<text x="476.7" y="649.84" font-family="Liberation Sans" font-size="6.9" text-anchor="end" fill="#444">0.2</text>
<line x1="478.6" y1="671.41" x2="481.0" y2="671.41" stroke="#888" stroke-width="0.9"/>
<text x="476.7" y="673.81" font-family="Liberation Sans" font-size="6.9" text-anchor="end" fill="#444">0.1</text>
<line x1="478.6" y1="695.38" x2="481.0" y2="695.38" stroke="#888" stroke-width="0.9"/>
<text x="476.7" y="697.78" font-family="Liberation Sans" font-size="6.9" text-anchor="end" fill="#444">0</text>
<line x1="478.6" y1="719.35" x2="481.0" y2="719.35" stroke="#888" stroke-width="0.9"/>
<text x="476.7" y="721.75" font-family="Liberation Sans" font-size="6.9" text-anchor="end" fill="#444">-0.1</text>
<line x1="478.6" y1="743.32" x2="481.0" y2="743.32" stroke="#888" stroke-width="0.9"/>
<text x="476.7" y="745.72" font-family="Liberation Sans" font-size="6.9" text-anchor="end" fill="#444">-0.2</text>
<line x1="478.6" y1="767.29" x2="481.0" y2="767.29" stroke="#888" stroke-width="0.9"/>
<text x="476.7" y="769.69" font-family="Liberation Sans" font-size="6.9" text-anchor="end" fill="#444">-0.3</text>
<line x1="478.6" y1="791.26" x2="481.0" y2="791.26" stroke="#888" stroke-width="0.9"/>
<text x="476.7" y="793.66" font-family="Liberation Sans" font-size="6.9" text-anchor="end" fill="#444">-0.4</text>
<line x1="478.6" y1="815.23" x2="481.0" y2="815.23" stroke="#888" stroke-width="0.9"/>
<text x="476.7" y="817.63" font-family="Liberation Sans" font-size="6.9" text-anchor="end" fill="#444">-0.5</text>
<line x1="478.6" y1="839.20" x2="481.0" y2="839.20" stroke="#888" stroke-width="0.9"/>
<text x="476.7" y="841.60" font-family="Liberation Sans" font-size="6.9" text-anchor="end" fill="#444">-0.6</text>
<line x1="481.40" y1="849.2" x2="481.40" y2="851.6" stroke="#888" stroke-width="0.9"/>
<text x="481.40" y="860.1" font-family="Liberation Sans" font-size="6.9" text-anchor="middle" fill="#444">-0.8</text>
<line x1="515.08" y1="849.2" x2="515.08" y2="851.6" stroke="#888" stroke-width="0.9"/>
<text x="515.08" y="860.1" font-family="Liberation Sans" font-size="6.9" text-anchor="middle" fill="#444">-0.6</text>
<line x1="548.76" y1="849.2" x2="548.76" y2="851.6" stroke="#888" stroke-width="0.9"/>
<text x="548.76" y="860.1" font-family="Liberation Sans" font-size="6.9" text-anchor="middle" fill="#444">-0.4</text>
<line x1="582.44" y1="849.2" x2="582.44" y2="851.6" stroke="#888" stroke-width="0.9"/>
<text x="582.44" y="860.1" font-family="Liberation Sans" font-size="6.9" text-anchor="middle" fill="#444">-0.2</text>
<line x1="616.12" y1="849.2" x2="616.12" y2="851.6" stroke="#888" stroke-width="0.9"/>
<text x="616.12" y="860.1" font-family="Liberation Sans" font-size="6.9" text-anchor="middle" fill="#444">0</text>
<line x1="649.80" y1="849.2" x2="649.80" y2="851.6" stroke="#888" stroke-width="0.9"/>
<text x="649.80" y="860.1" font-family="Liberation Sans" font-size="6.9" text-anchor="middle" fill="#444">0.2</text>
<line x1="683.48" y1="849.2" x2="683.48" y2="851.6" stroke="#888" stroke-width="0.9"/>
<text x="683.48" y="860.1" font-family="Liberation Sans" font-size="6.9" text-anchor="middle" fill="#444">0.4</text>
<line x1="717.16" y1="849.2" x2="717.16" y2="851.6" stroke="#888" stroke-width="0.9"/>
<text x="717.16" y="860.1" font-family="Liberation Sans" font-size="6.9" text-anchor="middle" fill="#444">0.6</text>
<line x1="750.84" y1="849.2" x2="750.84" y2="851.6" stroke="#888" stroke-width="0.9"/>
<text x="750.84" y="860.1" font-family="Liberation Sans" font-size="6.9" text-anchor="middle" fill="#444">0.8</text>
<text x="619.9" y="868.3" font-family="Liberation Sans" font-weight="bold" font-size="10.8" text-anchor="middle" fill="#111">NMDS1</text>
<text transform="translate(458.4,713.9) rotate(-90)" font-family="Liberation Sans" font-weight="bold" font-size="10.6" text-anchor="middle" fill="#111">NMDS2</text>
<ellipse cx="621.90" cy="717.45" rx="136.76" ry="70.03" transform="rotate(31.18 621.90 717.45)" fill="none" stroke="#d9685c" stroke-width="0.8"/>
<ellipse cx="619.10" cy="700.15" rx="94.33" ry="49.14" transform="rotate(-31.71 619.10 700.15)" fill="none" stroke="#5fb0c8" stroke-width="0.8"/>
<ellipse cx="609.05" cy="704.20" rx="77.17" ry="47.81" transform="rotate(-26.02 609.05 704.20)" fill="none" stroke="#4a5d8e" stroke-width="0.8"/>
<ellipse cx="622.45" cy="657.40" rx="69.69" ry="25.47" transform="rotate(-8.97 622.45 657.40)" fill="none" stroke="#3f9c8a" stroke-width="0.8"/>
<ellipse cx="606.90" cy="695.95" rx="60.29" ry="20.82" transform="rotate(8.52 606.90 695.95)" fill="none" stroke="#e39a82" stroke-width="0.8"/>
<circle cx="601.2" cy="654.8" r="3.35" fill="#1f9a82"/>
<circle cx="608" cy="656.6" r="3.35" fill="#1f9a82"/>
<circle cx="611.5" cy="657.6" r="3.35" fill="#1f9a82"/>
<circle cx="616.1" cy="661.9" r="3.35" fill="#1f9a82"/>
<circle cx="632.7" cy="668.9" r="3.35" fill="#1f9a82"/>
<circle cx="643.3" cy="661.5" r="3.35" fill="#1f9a82"/>
<circle cx="663.5" cy="637.8" r="3.35" fill="#1f9a82"/>
<circle cx="684.3" cy="666.1" r="3.35" fill="#48b3d3"/>
<circle cx="610.1" cy="708.6" r="3.35" fill="#48b3d3"/>
<circle cx="618.6" cy="709" r="3.35" fill="#48b3d3"/>
<circle cx="617.2" cy="740" r="3.35" fill="#48b3d3"/>
<circle cx="608" cy="698.4" r="3.35" fill="#48b3d3"/>
<circle cx="592.5" cy="692" r="3.35" fill="#e0452f"/>
<circle cx="600.2" cy="743.1" r="3.35" fill="#e0452f"/>
<circle cx="625.6" cy="741.4" r="3.35" fill="#e0452f"/>
<circle cx="709.8" cy="730.9" r="3.35" fill="#e0452f"/>
<circle cx="646.1" cy="763.5" r="3.35" fill="#e0452f"/>
<circle cx="580.7" cy="745.7" r="3.35" fill="#3b4f8a"/>
<circle cx="661" cy="702.6" r="3.35" fill="#3b4f8a"/>
<circle cx="602" cy="688.2" r="3.35" fill="#3b4f8a"/>
<circle cx="595.9" cy="696.5" r="3.35" fill="#3b4f8a"/>
<circle cx="599.7" cy="687.4" r="3.35" fill="#ee9171"/>
<circle cx="598.9" cy="692" r="3.35" fill="#ee9171"/>
<circle cx="598.2" cy="700.3" r="3.35" fill="#ee9171"/>
<circle cx="602" cy="707.1" r="3.35" fill="#ee9171"/>
<circle cx="654.3" cy="705.2" r="3.35" fill="#ee9171"/>
<circle cx="601" cy="696" r="3.35" fill="#ee9171"/>
<circle cx="614.5" cy="702.6" r="3.35" fill="#3b4f8a"/>
<circle cx="612.6" cy="704" r="3.35" fill="#3b4f8a"/>
<circle cx="602.3" cy="702.2" r="3.35" fill="#3b4f8a"/>
<circle cx="762.7" cy="602.00" r="3.5" fill="#e0452f"/>
<text x="768.4" y="604.90" font-family="Liberation Sans" font-size="7.7" fill="#333">Indoor</text>
<circle cx="762.7" cy="612.05" r="3.5" fill="#48b3d3"/>
<text x="768.4" y="614.95" font-family="Liberation Sans" font-size="7.7" fill="#333">Wo</text>
<circle cx="762.7" cy="622.10" r="3.5" fill="#1f9a82"/>
<text x="768.4" y="625.00" font-family="Liberation Sans" font-size="7.7" fill="#333">Soil</text>
<circle cx="762.7" cy="632.15" r="3.5" fill="#3b4f8a"/>
<text x="768.4" y="635.05" font-family="Liberation Sans" font-size="7.7" fill="#333">Po</text>
<circle cx="762.7" cy="642.20" r="3.5" fill="#ee9171"/>
<text x="768.4" y="645.10" font-family="Liberation Sans" font-size="7.7" fill="#333">Co</text>
</svg></body></html>
